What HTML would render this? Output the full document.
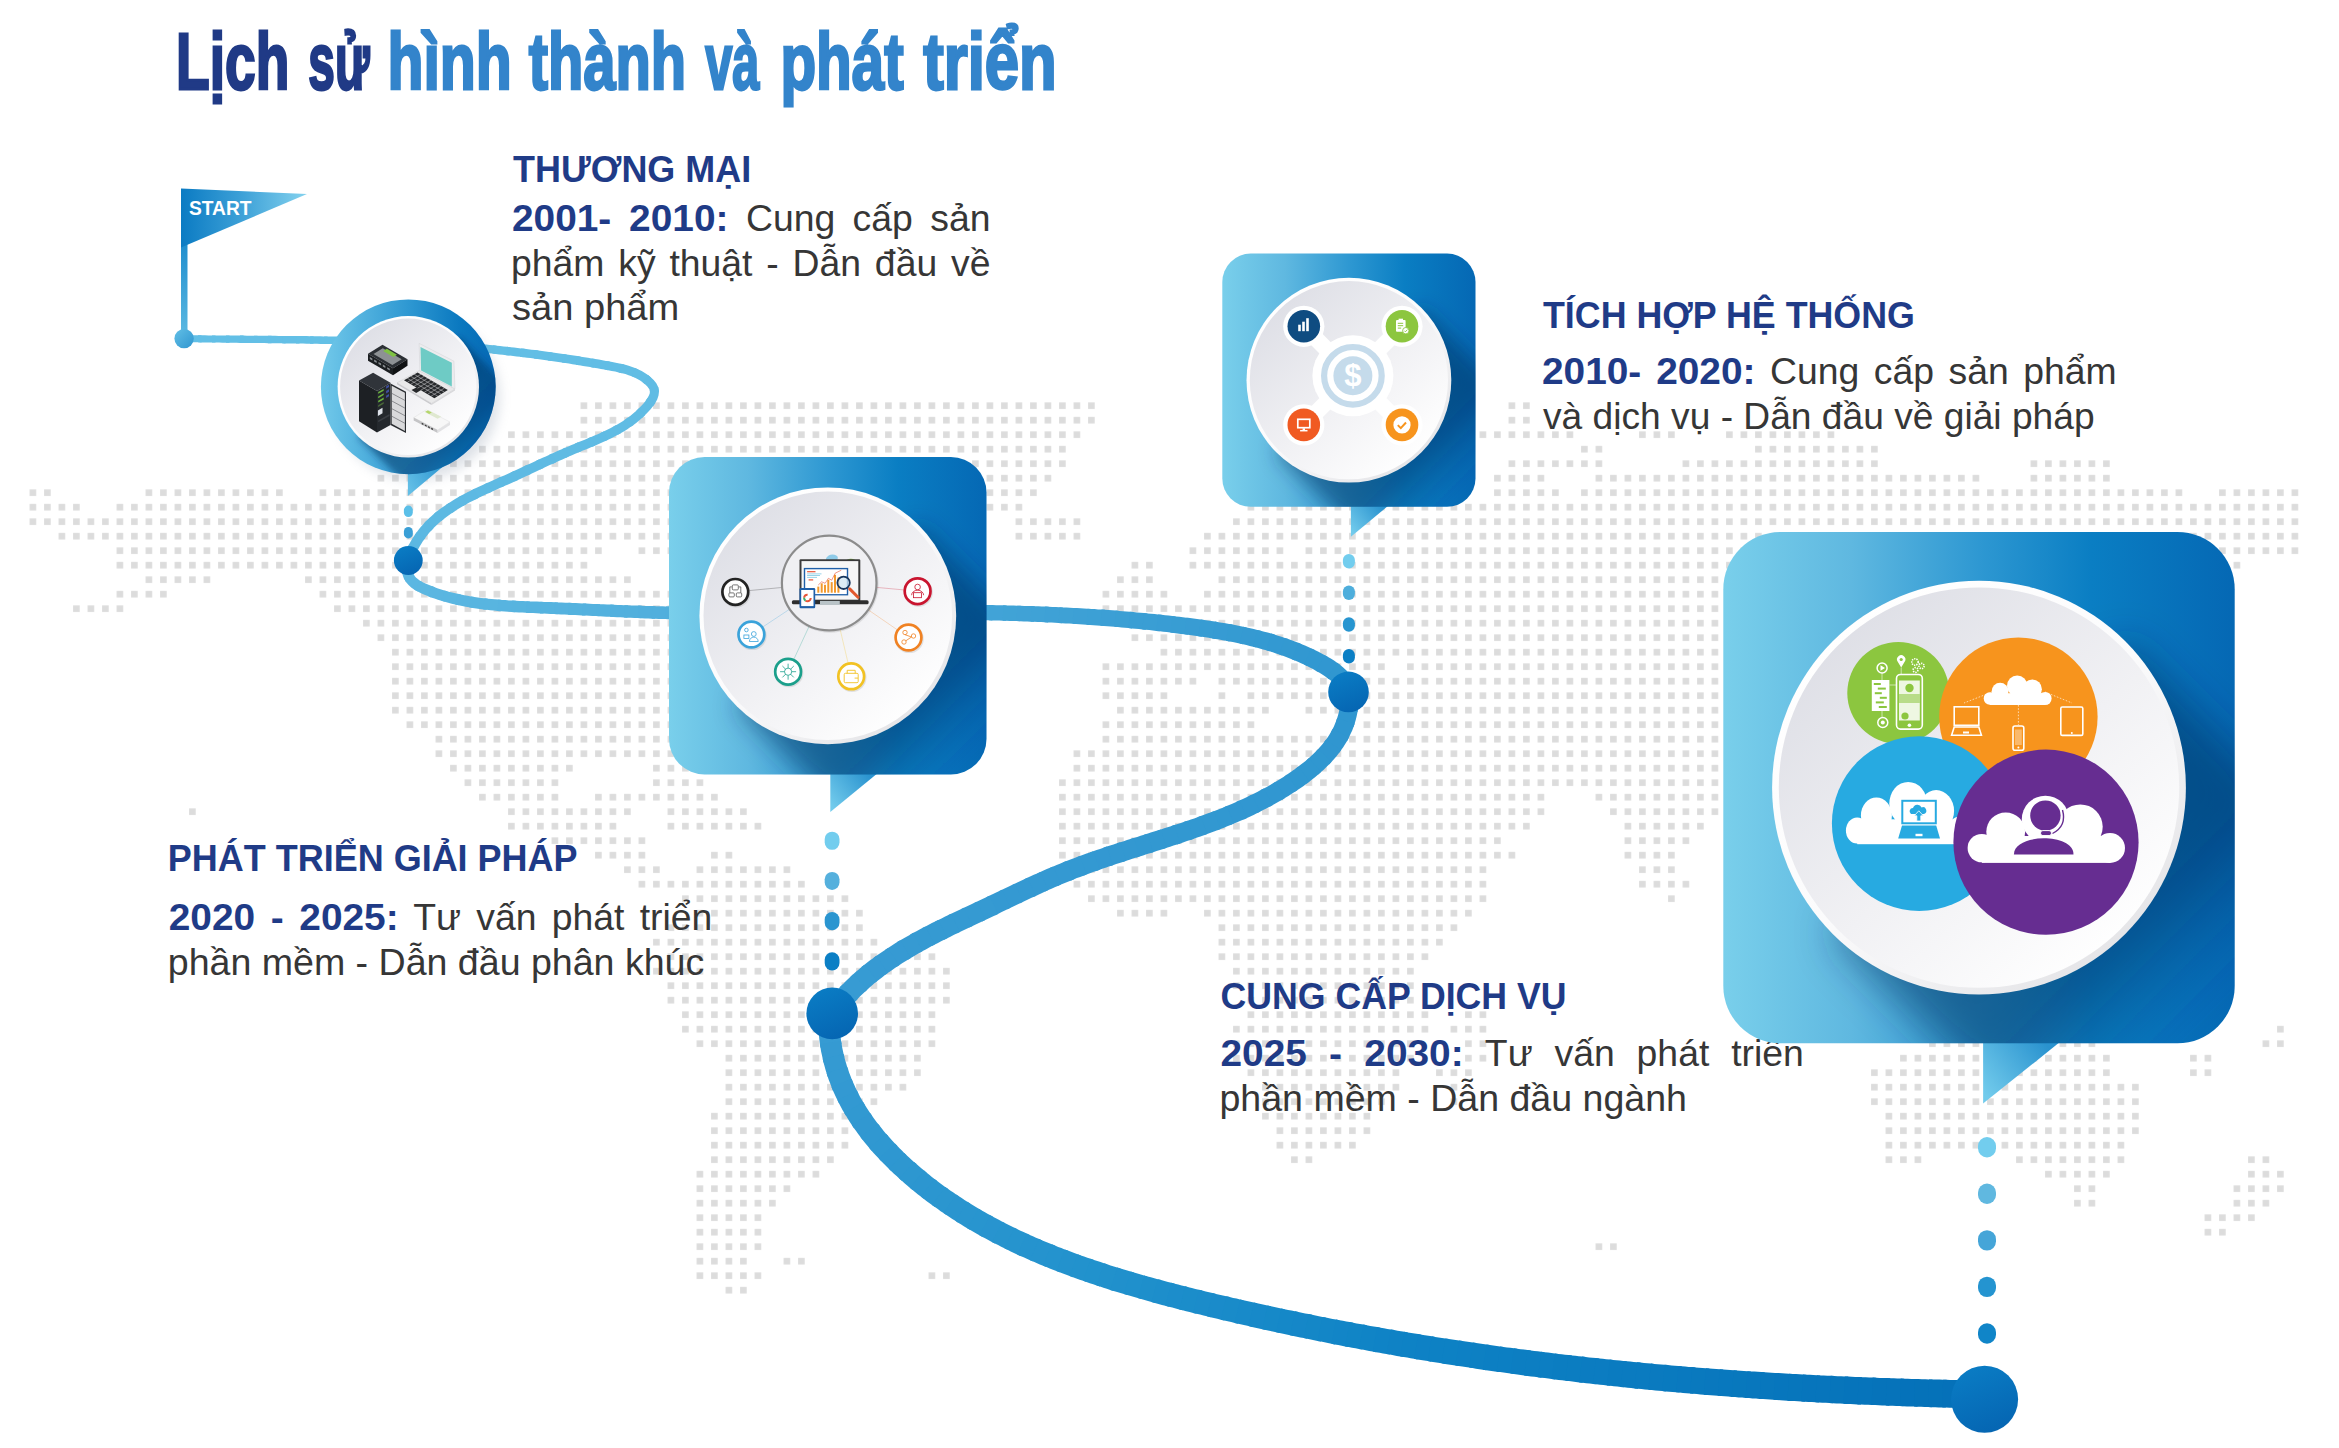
<!DOCTYPE html>
<html lang="vi"><head><meta charset="utf-8"><title>Lịch sử hình thành và phát triển</title>
<style>html,body{margin:0;padding:0;background:#fff}svg{display:block}text{white-space:pre}</style></head>
<body><svg width="2339" height="1448" viewBox="0 0 2339 1448">
<defs>
<linearGradient id="gbox" x1="0" y1="0" x2="1" y2="0"><stop offset="0" stop-color="#79cfeb"/><stop offset="0.25" stop-color="#5fb8e0"/><stop offset="0.5" stop-color="#2e98d2"/><stop offset="0.72" stop-color="#0a7ec3"/><stop offset="1" stop-color="#0568b4"/></linearGradient>
<linearGradient id="gdisc" x1="0.15" y1="0.1" x2="0.85" y2="0.9"><stop offset="0" stop-color="#dedfe6"/><stop offset="0.55" stop-color="#f1f1f4"/><stop offset="1" stop-color="#ffffff"/></linearGradient>
<linearGradient id="grim" x1="0.15" y1="0.1" x2="0.85" y2="0.9"><stop offset="0" stop-color="#ffffff"/><stop offset="0.5" stop-color="#fbfbfc"/><stop offset="1" stop-color="#e4e4e7"/></linearGradient>
<linearGradient id="gflag" x1="0" y1="0" x2="1" y2="0"><stop offset="0" stop-color="#0b7bc3"/><stop offset="0.5" stop-color="#3fa2d8"/><stop offset="1" stop-color="#84d2ee"/></linearGradient>
<linearGradient id="gpole" x1="0" y1="0" x2="0" y2="1"><stop offset="0" stop-color="#1788cb"/><stop offset="1" stop-color="#5cb9e2"/></linearGradient>
<linearGradient id="gring" x1="0" y1="0" x2="1" y2="0"><stop offset="0" stop-color="#72c9ea"/><stop offset="0.5" stop-color="#2e98d2"/><stop offset="0.8" stop-color="#0a78bf"/><stop offset="1" stop-color="#0568b4"/></linearGradient>
<linearGradient id="gdot" x1="0.3" y1="0" x2="0.7" y2="1"><stop offset="0" stop-color="#0a7cc4"/><stop offset="1" stop-color="#0565b2"/></linearGradient>
<linearGradient id="gball" x1="0" y1="0" x2="1" y2="1"><stop offset="0" stop-color="#62bfe6"/><stop offset="1" stop-color="#2f96d0"/></linearGradient>
<filter id="blurc1" x="-50%" y="-50%" width="200%" height="200%"><feGaussianBlur stdDeviation="3.5"/></filter>
<filter id="blurc1b" x="-50%" y="-50%" width="200%" height="200%"><feGaussianBlur stdDeviation="6"/></filter>
<clipPath id="clipc1"><circle cx="408.3" cy="386.8" r="87.4"/></clipPath>
<linearGradient id="gptrc1" gradientUnits="userSpaceOnUse" x1="408" y1="485" x2="445" y2="465"><stop offset="0" stop-color="#62bee6"/><stop offset="1" stop-color="#2a93cf"/></linearGradient>
<linearGradient id="gshc1" gradientUnits="userSpaceOnUse" x1="408.3" y1="386.8" x2="488.3" y2="466.8"><stop offset="0" stop-color="#0a2f60" stop-opacity="0.6"/><stop offset="0.6" stop-color="#0a2f60" stop-opacity="0.45"/><stop offset="1" stop-color="#0a3a78" stop-opacity="0"/></linearGradient>
<filter id="blur2" x="-50%" y="-50%" width="200%" height="200%"><feGaussianBlur stdDeviation="12.8"/></filter><linearGradient id="gsh2" gradientUnits="userSpaceOnUse" x1="827.8" y1="615.8" x2="963.9" y2="751.9"><stop offset="0" stop-color="#0a2f60" stop-opacity="0.55"/><stop offset="0.66" stop-color="#0a2f60" stop-opacity="0.5"/><stop offset="0.8" stop-color="#0a3468" stop-opacity="0.26"/><stop offset="1" stop-color="#0a3a78" stop-opacity="0"/></linearGradient><linearGradient id="gptr2" gradientUnits="userSpaceOnUse" x1="830.3" y1="804.5" x2="868.9" y2="774.5"><stop offset="0" stop-color="#72cbec"/><stop offset="1" stop-color="#2a93cf"/></linearGradient>
<filter id="blur3" x="-50%" y="-50%" width="200%" height="200%"><feGaussianBlur stdDeviation="10.2"/></filter><linearGradient id="gsh3" gradientUnits="userSpaceOnUse" x1="1348.9" y1="380.2" x2="1457.5" y2="488.8"><stop offset="0" stop-color="#0a2f60" stop-opacity="0.55"/><stop offset="0.66" stop-color="#0a2f60" stop-opacity="0.5"/><stop offset="0.8" stop-color="#0a3468" stop-opacity="0.26"/><stop offset="1" stop-color="#0a3a78" stop-opacity="0"/></linearGradient><linearGradient id="gptr3" gradientUnits="userSpaceOnUse" x1="1350.9" y1="530.7" x2="1381.7" y2="506.8"><stop offset="0" stop-color="#72cbec"/><stop offset="1" stop-color="#2a93cf"/></linearGradient>
<filter id="blur4" x="-50%" y="-50%" width="200%" height="200%"><feGaussianBlur stdDeviation="20.7"/></filter><linearGradient id="gsh4" gradientUnits="userSpaceOnUse" x1="1979.0" y1="787.6" x2="2198.3" y2="1006.9"><stop offset="0" stop-color="#0a2f60" stop-opacity="0.55"/><stop offset="0.66" stop-color="#0a2f60" stop-opacity="0.5"/><stop offset="0.8" stop-color="#0a3468" stop-opacity="0.26"/><stop offset="1" stop-color="#0a3a78" stop-opacity="0"/></linearGradient><linearGradient id="gptr4" gradientUnits="userSpaceOnUse" x1="1983.1" y1="1091.6" x2="2045.3" y2="1043.3"><stop offset="0" stop-color="#72cbec"/><stop offset="1" stop-color="#2a93cf"/></linearGradient>
</defs>
<rect width="2339" height="1448" fill="#fff"/>
<pattern id="pdot" patternUnits="userSpaceOnUse" x="25.65" y="470.95" width="14.5" height="14.5"><rect x="3.95" y="3.95" width="6.6" height="6.6" fill="#dcdcdc"/></pattern>
<path fill="url(#pdot)" d="M576.65 398.45h522v14.5h-522zM1504.65 398.45h29v14.5h-29zM576.65 412.95h522v14.5h-522zM1504.65 412.95h29v14.5h-29zM504.15 427.45h580v14.5h-580zM1475.65 427.45h101.5v14.5h-101.5zM1635.15 427.45h43.5v14.5h-43.5zM1722.15 427.45h116v14.5h-116zM475.15 441.95h594.5v14.5h-594.5zM1577.15 441.95h29v14.5h-29zM1751.15 441.95h130.5v14.5h-130.5zM446.15 456.45h623.5v14.5h-623.5zM1504.65 456.45h101.5v14.5h-101.5zM1678.65 456.45h203v14.5h-203zM2026.65 456.45h87v14.5h-87zM373.65 470.95h681.5v14.5h-681.5zM1490.15 470.95h58v14.5h-58zM1591.65 470.95h391.5v14.5h-391.5zM2026.65 470.95h87v14.5h-87zM25.65 485.45h29v14.5h-29zM141.65 485.45h145v14.5h-145zM315.65 485.45h725v14.5h-725zM1490.15 485.45h72.5v14.5h-72.5zM1577.15 485.45h609v14.5h-609zM2215.15 485.45h87v14.5h-87zM25.65 499.95h58v14.5h-58zM112.65 499.95h913.5v14.5h-913.5zM1243.65 499.95h1058.5v14.5h-1058.5zM25.65 514.45h957v14.5h-957zM1011.65 514.45h72.5v14.5h-72.5zM1229.15 514.45h1073v14.5h-1073zM54.65 528.95h928v14.5h-928zM1011.65 528.95h72.5v14.5h-72.5zM1200.15 528.95h1102v14.5h-1102zM112.65 543.45h493v14.5h-493zM634.65 543.45h348v14.5h-348zM1185.65 543.45h101.5v14.5h-101.5zM1301.65 543.45h899v14.5h-899zM2215.15 543.45h87v14.5h-87zM112.65 557.95h478.5v14.5h-478.5zM1127.65 557.95h29v14.5h-29zM1185.65 557.95h1015v14.5h-1015zM2229.65 557.95h14.5v14.5h-14.5zM141.65 572.45h72.5v14.5h-72.5zM301.15 572.45h333.5v14.5h-333.5zM1113.15 572.45h43.5v14.5h-43.5zM1214.65 572.45h551v14.5h-551zM112.65 586.95h58v14.5h-58zM315.65 586.95h667v14.5h-667zM1098.65 586.95h72.5v14.5h-72.5zM1200.15 586.95h565.5v14.5h-565.5zM69.15 601.45h58v14.5h-58zM330.15 601.45h652.5v14.5h-652.5zM1098.65 601.45h667v14.5h-667zM359.15 615.95h623.5v14.5h-623.5zM1127.65 615.95h638v14.5h-638zM373.65 630.45h609v14.5h-609zM1127.65 630.45h638v14.5h-638zM388.15 644.95h594.5v14.5h-594.5zM1156.65 644.95h609v14.5h-609zM388.15 659.45h594.5v14.5h-594.5zM1098.65 659.45h290v14.5h-290zM1403.15 659.45h362.5v14.5h-362.5zM388.15 673.95h594.5v14.5h-594.5zM1098.65 673.95h101.5v14.5h-101.5zM1214.65 673.95h551v14.5h-551zM388.15 688.45h594.5v14.5h-594.5zM1098.65 688.45h72.5v14.5h-72.5zM1214.65 688.45h14.5v14.5h-14.5zM1243.65 688.45h522v14.5h-522zM388.15 702.95h594.5v14.5h-594.5zM1113.15 702.95h159.5v14.5h-159.5zM1301.65 702.95h420.5v14.5h-420.5zM402.65 717.45h580v14.5h-580zM1098.65 717.45h159.5v14.5h-159.5zM1359.65 717.45h362.5v14.5h-362.5zM431.65 731.95h551v14.5h-551zM1098.65 731.95h623.5v14.5h-623.5zM431.65 746.45h551v14.5h-551zM1069.65 746.45h652.5v14.5h-652.5zM446.15 760.95h130.5v14.5h-130.5zM649.15 760.95h43.5v14.5h-43.5zM1069.65 760.95h652.5v14.5h-652.5zM460.65 775.45h101.5v14.5h-101.5zM649.15 775.45h58v14.5h-58zM1055.15 775.45h667v14.5h-667zM475.15 789.95h87v14.5h-87zM591.15 789.95h130.5v14.5h-130.5zM1055.15 789.95h493v14.5h-493zM1591.65 789.95h130.5v14.5h-130.5zM185.15 804.45h14.5v14.5h-14.5zM504.15 804.45h130.5v14.5h-130.5zM663.65 804.45h87v14.5h-87zM1055.15 804.45h493v14.5h-493zM1606.15 804.45h116v14.5h-116zM504.15 818.95h116v14.5h-116zM663.65 818.95h101.5v14.5h-101.5zM1055.15 818.95h478.5v14.5h-478.5zM1620.65 818.95h87v14.5h-87zM547.65 833.45h101.5v14.5h-101.5zM1055.15 833.45h449.5v14.5h-449.5zM1620.65 833.45h72.5v14.5h-72.5zM591.15 847.95h58v14.5h-58zM707.15 847.95h29v14.5h-29zM1055.15 847.95h464v14.5h-464zM1620.65 847.95h58v14.5h-58zM620.15 862.45h43.5v14.5h-43.5zM692.65 862.45h101.5v14.5h-101.5zM1069.65 862.45h420.5v14.5h-420.5zM1635.15 862.45h43.5v14.5h-43.5zM634.65 876.95h174v14.5h-174zM1069.65 876.95h420.5v14.5h-420.5zM1635.15 876.95h58v14.5h-58zM678.15 891.45h174v14.5h-174zM1084.15 891.45h406v14.5h-406zM1664.15 891.45h14.5v14.5h-14.5zM692.65 905.95h174v14.5h-174zM1113.15 905.95h58v14.5h-58zM1200.15 905.95h275.5v14.5h-275.5zM663.65 920.45h203v14.5h-203zM1214.65 920.45h246.5v14.5h-246.5zM649.15 934.95h232v14.5h-232zM1214.65 934.95h232v14.5h-232zM663.65 949.45h275.5v14.5h-275.5zM1214.65 949.45h217.5v14.5h-217.5zM649.15 963.95h304.5v14.5h-304.5zM1229.15 963.95h188.5v14.5h-188.5zM663.65 978.45h290v14.5h-290zM1229.15 978.45h188.5v14.5h-188.5zM663.65 992.95h290v14.5h-290zM1243.65 992.95h174v14.5h-174zM678.15 1007.45h261v14.5h-261zM1243.65 1007.45h188.5v14.5h-188.5zM1461.15 1007.45h29v14.5h-29zM678.15 1021.95h261v14.5h-261zM1229.15 1021.95h203v14.5h-203zM1446.65 1021.95h43.5v14.5h-43.5zM2273.15 1021.95h14.5v14.5h-14.5zM692.65 1036.45h246.5v14.5h-246.5zM1229.15 1036.45h188.5v14.5h-188.5zM1461.15 1036.45h29v14.5h-29zM1925.15 1036.45h58v14.5h-58zM2055.65 1036.45h43.5v14.5h-43.5zM2258.65 1036.45h29v14.5h-29zM721.65 1050.95h203v14.5h-203zM1229.15 1050.95h188.5v14.5h-188.5zM1461.15 1050.95h29v14.5h-29zM1896.15 1050.95h217.5v14.5h-217.5zM2186.15 1050.95h29v14.5h-29zM721.65 1065.45h203v14.5h-203zM1243.65 1065.45h159.5v14.5h-159.5zM1432.15 1065.45h43.5v14.5h-43.5zM1867.15 1065.45h246.5v14.5h-246.5zM2186.15 1065.45h29v14.5h-29zM721.65 1079.95h188.5v14.5h-188.5zM1258.15 1079.95h145v14.5h-145zM1446.65 1079.95h14.5v14.5h-14.5zM1867.15 1079.95h275.5v14.5h-275.5zM721.65 1094.45h159.5v14.5h-159.5zM1258.15 1094.45h130.5v14.5h-130.5zM1446.65 1094.45h14.5v14.5h-14.5zM1867.15 1094.45h275.5v14.5h-275.5zM707.15 1108.95h145v14.5h-145zM1258.15 1108.95h116v14.5h-116zM1881.65 1108.95h261v14.5h-261zM707.15 1123.45h145v14.5h-145zM1272.65 1123.45h101.5v14.5h-101.5zM1881.65 1123.45h261v14.5h-261zM707.15 1137.95h145v14.5h-145zM1272.65 1137.95h87v14.5h-87zM1881.65 1137.95h246.5v14.5h-246.5zM707.15 1152.45h130.5v14.5h-130.5zM1287.15 1152.45h29v14.5h-29zM1881.65 1152.45h43.5v14.5h-43.5zM2012.15 1152.45h116v14.5h-116zM2244.15 1152.45h29v14.5h-29zM692.65 1166.95h130.5v14.5h-130.5zM2041.15 1166.95h72.5v14.5h-72.5zM2244.15 1166.95h43.5v14.5h-43.5zM692.65 1181.45h101.5v14.5h-101.5zM2070.15 1181.45h29v14.5h-29zM2229.65 1181.45h58v14.5h-58zM692.65 1195.95h87v14.5h-87zM2070.15 1195.95h29v14.5h-29zM2229.65 1195.95h43.5v14.5h-43.5zM692.65 1210.45h72.5v14.5h-72.5zM2200.65 1210.45h58v14.5h-58zM692.65 1224.95h72.5v14.5h-72.5zM2200.65 1224.95h29v14.5h-29zM692.65 1239.45h72.5v14.5h-72.5zM1591.65 1239.45h29v14.5h-29zM692.65 1253.95h58v14.5h-58zM779.65 1253.95h29v14.5h-29zM692.65 1268.45h72.5v14.5h-72.5zM924.65 1268.45h29v14.5h-29zM721.65 1282.95h29v14.5h-29z"/>
<g font-family='"Liberation Sans", sans-serif'><text xml:space="preserve" transform="translate(176.11 88.50) scale(0.6974 1)" font-size="79" font-weight="bold" fill="#203a86" style="word-spacing:0.00px" stroke="#203a86" stroke-width="2.8" stroke-linejoin="miter" stroke-miterlimit="3">Lịch</text>
<text xml:space="preserve" transform="translate(308.29 88.50) scale(0.6054 1)" font-size="79" font-weight="bold" fill="#203a86" style="word-spacing:0.00px" stroke="#203a86" stroke-width="2.8" stroke-linejoin="miter" stroke-miterlimit="3">sử</text>
<text xml:space="preserve" transform="translate(387.47 88.50) scale(0.7456 1)" font-size="79" font-weight="bold" fill="#3384cb" style="word-spacing:0.00px" stroke="#3384cb" stroke-width="2.8" stroke-linejoin="miter" stroke-miterlimit="3">hình</text>
<text xml:space="preserve" transform="translate(528.80 88.50) scale(0.7321 1)" font-size="79" font-weight="bold" fill="#3384cb" style="word-spacing:0.00px" stroke="#3384cb" stroke-width="2.8" stroke-linejoin="miter" stroke-miterlimit="3">thành</text>
<text xml:space="preserve" transform="translate(705.20 88.50) scale(0.6173 1)" font-size="79" font-weight="bold" fill="#3384cb" style="word-spacing:0.00px" stroke="#3384cb" stroke-width="2.8" stroke-linejoin="miter" stroke-miterlimit="3">và</text>
<text xml:space="preserve" transform="translate(780.41 88.50) scale(0.7389 1)" font-size="79" font-weight="bold" fill="#3384cb" style="word-spacing:0.00px" stroke="#3384cb" stroke-width="2.8" stroke-linejoin="miter" stroke-miterlimit="3">phát</text>
<text xml:space="preserve" transform="translate(923.20 88.50) scale(0.7799 1)" font-size="79" font-weight="bold" fill="#3384cb" style="word-spacing:0.00px" stroke="#3384cb" stroke-width="2.8" stroke-linejoin="miter" stroke-miterlimit="3">triển</text>
<text xml:space="preserve" transform="translate(513.00 182.00) scale(0.9716 1)" font-size="37" font-weight="bold" fill="#1f3b87" style="word-spacing:0.00px">THƯƠNG MẠI</text>
<text xml:space="preserve" transform="translate(511.95 231.00) scale(1.0500 1)" font-size="37" font-weight="bold" fill="#1f3b87" style="word-spacing:6.70px">2001- 2010:</text>
<text xml:space="preserve" transform="translate(728.50 231.00) scale(1.0100 1)" font-size="37" font-weight="normal" fill="#363636" style="word-spacing:6.96px"> Cung cấp sản</text>
<text xml:space="preserve" transform="translate(510.98 275.50) scale(1.0100 1)" font-size="37" font-weight="normal" fill="#363636" style="word-spacing:3.39px">phẩm kỹ thuật - Dẫn đầu về</text>
<text xml:space="preserve" transform="translate(511.97 320.00) scale(1.0303 1)" font-size="37" font-weight="normal" fill="#363636" style="word-spacing:0.00px">sản phẩm</text>
<text xml:space="preserve" transform="translate(1543.00 327.50) scale(0.9678 1)" font-size="37" font-weight="bold" fill="#1f3b87" style="word-spacing:0.00px">TÍCH HỢP HỆ THỐNG</text>
<text xml:space="preserve" transform="translate(1541.95 384.00) scale(1.0500 1)" font-size="37" font-weight="bold" fill="#1f3b87" style="word-spacing:3.91px">2010- 2020:</text>
<text xml:space="preserve" transform="translate(1755.57 384.00) scale(1.0100 1)" font-size="37" font-weight="normal" fill="#363636" style="word-spacing:4.06px"> Cung cấp sản phẩm</text>
<text xml:space="preserve" transform="translate(1543.00 429.00) scale(1.0044 1)" font-size="37" font-weight="normal" fill="#363636" style="word-spacing:0.00px">và dịch vụ - Dẫn đầu về giải pháp</text>
<text xml:space="preserve" transform="translate(167.86 871.00) scale(0.9724 1)" font-size="37" font-weight="bold" fill="#1f3b87" style="word-spacing:0.00px">PHÁT TRIỂN GIẢI PHÁP</text>
<text xml:space="preserve" transform="translate(168.75 930.00) scale(1.0500 1)" font-size="37" font-weight="bold" fill="#1f3b87" style="word-spacing:4.60px">2020 - 2025:</text>
<text xml:space="preserve" transform="translate(398.72 930.00) scale(1.0100 1)" font-size="37" font-weight="normal" fill="#363636" style="word-spacing:4.78px"> Tư vấn phát triển</text>
<text xml:space="preserve" transform="translate(167.77 975.00) scale(1.0154 1)" font-size="37" font-weight="normal" fill="#363636" style="word-spacing:0.00px">phần mềm - Dẫn đầu phân khúc</text>
<text xml:space="preserve" transform="translate(1220.54 1008.50) scale(0.9635 1)" font-size="37" font-weight="bold" fill="#1f3b87" style="word-spacing:0.00px">CUNG CẤP DỊCH VỤ</text>
<text xml:space="preserve" transform="translate(1220.45 1066.00) scale(1.0500 1)" font-size="37" font-weight="bold" fill="#1f3b87" style="word-spacing:10.92px">2025 - 2030:</text>
<text xml:space="preserve" transform="translate(1463.69 1066.00) scale(1.0100 1)" font-size="37" font-weight="normal" fill="#363636" style="word-spacing:11.35px"> Tư vấn phát triển</text>
<text xml:space="preserve" transform="translate(1219.47 1110.50) scale(1.0149 1)" font-size="37" font-weight="normal" fill="#363636" style="word-spacing:0.00px">phần mềm - Dẫn đầu ngành</text></g>
<rect x="181" y="230" width="6.5" height="106" fill="url(#gpole)"/>
<polygon points="181,188.5 307,194 181,247.5" fill="url(#gflag)"/>
<text x="189" y="214.8" font-family='"Liberation Sans", sans-serif' font-weight="bold" font-size="21" fill="#fff" textLength="62.5" lengthAdjust="spacingAndGlyphs">START</text>
<g><path d="M183.9 342.1L187.4 342.2L190.9 342.2L194.5 342.3L198.0 342.3L201.5 342.4L201.5 335.3L198.0 335.3L194.5 335.2L191.1 335.2L187.6 335.1L184.1 335.1Z" fill="#62bfe6"/>
<path d="M198.0 342.3L201.5 342.4L205.0 342.4L208.5 342.5L212.0 342.5L215.5 342.6L215.5 335.4L212.0 335.4L208.5 335.4L205.0 335.3L201.5 335.3L198.0 335.3Z" fill="#62bfe6"/>
<path d="M212.0 342.5L215.5 342.6L219.0 342.6L222.5 342.7L226.0 342.7L229.5 342.7L229.5 335.5L226.0 335.5L222.5 335.5L219.0 335.5L215.5 335.4L212.0 335.4Z" fill="#62bfe6"/>
<path d="M226.0 342.7L229.5 342.7L233.0 342.8L236.5 342.8L240.0 342.9L243.5 342.9L243.5 335.6L240.0 335.6L236.5 335.6L233.0 335.6L229.5 335.5L226.0 335.5Z" fill="#62bfe6"/>
<path d="M240.0 342.9L243.5 342.9L247.0 342.9L250.5 343.0L254.0 343.0L257.5 343.0L257.5 335.7L254.0 335.7L250.5 335.7L247.0 335.7L243.5 335.6L240.0 335.6Z" fill="#63bfe6"/>
<path d="M254.0 343.0L257.5 343.0L261.0 343.1L264.5 343.1L268.0 343.2L271.5 343.2L271.6 335.8L268.0 335.8L264.5 335.8L261.0 335.7L257.5 335.7L254.0 335.7Z" fill="#63bfe6"/>
<path d="M268.0 343.2L271.5 343.2L275.0 343.2L278.5 343.3L282.0 343.3L285.5 343.4L285.6 335.9L282.1 335.9L278.6 335.9L275.1 335.8L271.6 335.8L268.0 335.8Z" fill="#63bfe6"/>
<path d="M282.0 343.3L285.5 343.4L289.0 343.4L292.5 343.5L296.0 343.5L299.5 343.6L299.6 336.0L296.1 336.0L292.6 336.0L289.1 335.9L285.6 335.9L282.1 335.9Z" fill="#63bfe6"/>
<path d="M296.0 343.5L299.5 343.6L303.0 343.6L306.5 343.7L310.0 343.7L313.5 343.8L313.6 336.2L310.1 336.2L306.6 336.1L303.1 336.1L299.6 336.0L296.1 336.0Z" fill="#63c0e6"/>
<path d="M310.0 343.7L313.5 343.8L317.0 343.8L320.5 343.9L324.0 344.0L327.5 344.0L327.6 336.4L324.1 336.4L320.6 336.3L317.1 336.2L313.6 336.2L310.1 336.2Z" fill="#63c0e6"/>
<path d="M324.0 344.0L327.5 344.0L331.0 344.1L334.4 344.2L337.9 344.3L341.4 344.4L341.6 336.7L338.1 336.6L334.6 336.5L331.1 336.5L327.6 336.4L324.1 336.4Z" fill="#63c0e6"/>
<path d="M337.9 344.3L341.4 344.4L344.9 344.5L348.4 344.6L351.9 344.7L355.4 344.8L355.6 337.0L352.1 336.9L348.6 336.8L345.1 336.7L341.6 336.7L338.1 336.6Z" fill="#63c0e6"/>
<path d="M351.9 344.7L355.4 344.8L358.9 344.9L362.4 345.0L365.9 345.1L369.4 345.2L369.7 337.4L366.2 337.3L362.6 337.2L359.1 337.1L355.6 337.0L352.1 336.9Z" fill="#64c0e6"/>
<path d="M365.9 345.1L369.4 345.2L372.9 345.4L376.4 345.5L379.9 345.6L383.4 345.8L383.7 337.9L380.2 337.8L376.7 337.6L373.2 337.5L369.7 337.4L366.2 337.3Z" fill="#64c0e6"/>
<path d="M379.9 345.6L383.4 345.8L386.8 345.9L390.3 346.1L393.8 346.3L397.3 346.4L397.7 338.5L394.2 338.3L390.7 338.2L387.2 338.0L383.7 337.9L380.2 337.8Z" fill="#64c0e6"/>
<path d="M393.8 346.3L397.3 346.4L400.8 346.6L404.3 346.8L407.8 347.0L408.2 339.0L404.7 338.8L401.2 338.7L397.7 338.5L394.2 338.3Z" fill="#64c0e6"/>
<path d="M407.6 347.1L411.3 347.3L414.9 347.5L418.5 347.7L422.0 347.9L425.6 348.1L426.1 340.1L422.5 339.9L418.9 339.7L415.3 339.5L411.7 339.3L408.0 339.1Z" fill="#64c0e6"/>
<path d="M422.0 347.9L425.6 348.1L429.2 348.4L432.8 348.6L436.3 348.8L439.8 349.1L440.4 341.0L436.8 340.7L433.3 340.5L429.7 340.3L426.1 340.1L422.5 339.9Z" fill="#64c0e6"/>
<path d="M436.3 348.8L439.8 349.1L443.4 349.3L446.9 349.6L450.4 349.8L454.0 350.1L454.6 342.0L451.0 341.7L447.5 341.4L444.0 341.2L440.4 341.0L436.8 340.7Z" fill="#64c0e6"/>
<path d="M450.4 349.8L454.0 350.1L457.5 350.4L461.0 350.7L464.5 351.0L468.0 351.3L468.7 343.1L465.2 342.8L461.6 342.5L458.1 342.2L454.6 342.0L451.0 341.7Z" fill="#63bfe6"/>
<path d="M464.5 351.0L468.0 351.3L471.4 351.6L474.9 351.9L478.4 352.3L481.9 352.6L482.7 344.3L479.2 344.0L475.7 343.7L472.2 343.4L468.7 343.1L465.2 342.8Z" fill="#63bfe6"/>
<path d="M478.4 352.3L481.9 352.6L485.4 352.9L488.8 353.3L492.3 353.6L495.8 354.0L496.7 345.7L493.2 345.3L489.7 345.0L486.2 344.6L482.7 344.3L479.2 344.0Z" fill="#63bfe5"/>
<path d="M492.3 353.6L495.8 354.0L499.3 354.4L502.7 354.8L506.2 355.2L509.6 355.6L510.6 347.2L507.1 346.8L503.6 346.4L500.1 346.0L496.7 345.7L493.2 345.3Z" fill="#63bfe5"/>
<path d="M506.2 355.2L509.6 355.6L513.1 356.0L516.6 356.4L520.0 356.8L523.5 357.2L524.6 348.8L521.1 348.4L517.6 348.0L514.1 347.6L510.6 347.2L507.1 346.8Z" fill="#62bee5"/>
<path d="M520.0 356.8L523.5 357.2L527.0 357.7L530.5 358.1L533.9 358.6L537.4 359.1L538.5 350.6L535.0 350.1L531.5 349.7L528.1 349.2L524.6 348.8L521.1 348.4Z" fill="#62bee5"/>
<path d="M533.9 358.6L537.4 359.1L540.9 359.5L544.4 360.0L547.9 360.5L551.4 361.0L552.6 352.5L549.1 352.0L545.5 351.5L542.0 351.0L538.5 350.6L535.0 350.1Z" fill="#62bee5"/>
<path d="M547.9 360.5L551.4 361.0L554.9 361.5L558.4 362.0L561.9 362.6L565.4 363.1L566.7 354.5L563.1 354.0L559.6 353.5L556.1 353.0L552.6 352.5L549.1 352.0Z" fill="#62bee5"/>
<path d="M561.9 362.6L565.4 363.1L568.9 363.6L572.4 364.2L576.0 364.8L579.5 365.3L580.9 356.7L577.3 356.1L573.8 355.6L570.2 355.1L566.7 354.5L563.1 354.0Z" fill="#62bee5"/>
<path d="M576.0 364.8L579.5 365.3L583.0 365.9L586.6 366.5L590.2 367.1L593.7 367.7L595.2 359.0L591.6 358.4L588.0 357.8L584.4 357.3L580.9 356.7L577.3 356.1Z" fill="#62bee5"/>
<path d="M590.2 367.1L593.7 367.7L597.3 368.3L600.9 368.9L604.5 369.6L608.1 370.2L609.7 361.5L606.0 360.9L602.4 360.2L598.8 359.6L595.2 359.0L591.6 358.4Z" fill="#61bde5"/>
<path d="M604.5 369.6L608.1 370.2L611.7 370.9L615.2 371.6L618.7 372.4L622.1 373.2L624.3 364.6L620.7 363.7L617.0 362.9L613.4 362.2L609.7 361.5L606.0 360.9Z" fill="#61bde5"/>
<path d="M618.7 372.4L622.1 373.2L625.4 374.1L628.6 375.2L631.7 376.3L634.6 377.6L638.4 369.4L635.0 368.0L631.5 366.7L627.9 365.6L624.3 364.6L620.7 363.7Z" fill="#61bde4"/>
<path d="M631.7 376.3L634.6 377.6L637.4 379.0L640.1 380.6L642.6 382.3L645.0 384.2L651.0 377.5L648.0 375.1L644.9 373.0L641.7 371.1L638.4 369.4L635.0 368.0Z" fill="#61bde4"/>
<path d="M642.6 382.3L645.0 384.2L647.1 386.3L648.8 388.4L649.7 390.1L649.9 391.6L659.0 391.4L658.2 387.1L656.3 383.3L653.7 380.1L651.0 377.5L648.0 375.1Z" fill="#60bce4"/>
<path d="M649.7 390.1L649.9 391.6L649.7 393.4L648.9 395.6L647.5 398.1L645.7 400.7L653.0 406.3L655.3 402.9L657.2 399.4L658.5 395.6L659.0 391.4L658.2 387.1Z" fill="#60bce4"/>
<path d="M647.5 398.1L645.7 400.7L643.5 403.4L641.1 406.0L638.6 408.5L636.1 410.9L642.3 417.8L645.1 415.1L647.8 412.3L650.4 409.4L653.0 406.3L655.3 402.9Z" fill="#60bce4"/>
<path d="M638.6 408.5L636.1 410.9L633.4 413.2L630.8 415.4L628.0 417.5L625.2 419.5L630.4 427.1L633.5 425.0L636.5 422.7L639.4 420.3L642.3 417.8L645.1 415.1Z" fill="#60bce4"/>
<path d="M628.0 417.5L625.2 419.5L622.3 421.4L619.4 423.2L616.4 424.9L613.4 426.6L617.9 434.8L621.1 433.0L624.2 431.2L627.4 429.2L630.4 427.1L633.5 425.0Z" fill="#60bce4"/>
<path d="M616.4 424.9L613.4 426.6L610.3 428.2L607.2 429.8L604.1 431.3L600.9 432.8L604.8 441.3L608.1 439.8L611.4 438.2L614.6 436.6L617.9 434.8L621.1 433.0Z" fill="#60bce4"/>
<path d="M604.1 431.3L600.9 432.8L597.7 434.2L594.5 435.6L591.2 437.0L588.0 438.3L591.6 447.1L594.9 445.7L598.2 444.3L601.5 442.8L604.8 441.3L608.1 439.8Z" fill="#5fbbe4"/>
<path d="M591.2 437.0L588.0 438.3L584.7 439.7L581.4 441.0L578.1 442.3L574.8 443.7L578.4 452.5L581.7 451.1L585.0 449.8L588.3 448.4L591.6 447.1L594.9 445.7Z" fill="#5fbbe4"/>
<path d="M578.1 442.3L574.8 443.7L571.5 445.0L568.3 446.4L565.0 447.8L561.8 449.2L565.6 458.0L568.8 456.6L572.0 455.2L575.2 453.8L578.4 452.5L581.7 451.1Z" fill="#5fbbe3"/>
<path d="M565.0 447.8L561.8 449.2L558.5 450.6L555.3 452.0L552.1 453.5L548.9 454.9L553.0 463.7L556.1 462.2L559.3 460.8L562.4 459.4L565.6 458.0L568.8 456.6Z" fill="#5fbbe3"/>
<path d="M552.1 453.5L548.9 454.9L545.8 456.4L542.6 457.8L539.4 459.3L536.2 460.7L540.3 469.5L543.5 468.1L546.6 466.6L549.8 465.1L553.0 463.7L556.1 462.2Z" fill="#5ebae3"/>
<path d="M539.4 459.3L536.2 460.7L533.1 462.2L529.9 463.7L526.7 465.1L523.5 466.6L527.6 475.5L530.8 474.0L534.0 472.5L537.2 471.0L540.3 469.5L543.5 468.1Z" fill="#5ebae3"/>
<path d="M526.7 465.1L523.5 466.6L520.4 468.1L517.2 469.5L513.9 471.0L510.7 472.5L514.7 481.4L518.0 479.9L521.2 478.4L524.4 477.0L527.6 475.5L530.8 474.0Z" fill="#5ebae3"/>
<path d="M513.9 471.0L510.7 472.5L507.5 473.9L504.2 475.4L500.9 476.8L497.6 478.2L501.6 487.3L504.9 485.8L508.2 484.4L511.5 482.9L514.7 481.4L518.0 479.9Z" fill="#5ebae3"/>
<path d="M500.9 476.8L497.6 478.2L494.3 479.7L491.0 481.2L487.7 482.7L484.3 484.2L488.5 493.2L491.8 491.7L495.0 490.2L498.3 488.7L501.6 487.3L504.9 485.8Z" fill="#5ebae3"/>
<path d="M487.7 482.7L484.3 484.2L481.0 485.7L477.7 487.2L474.4 488.8L471.1 490.4L475.6 499.4L478.8 497.8L482.0 496.2L485.2 494.7L488.5 493.2L491.8 491.7Z" fill="#5ebae3"/>
<path d="M474.4 488.8L471.1 490.4L467.9 492.1L464.6 493.8L461.4 495.5L458.2 497.3L463.2 506.0L466.3 504.3L469.3 502.6L472.5 501.0L475.6 499.4L478.8 497.8Z" fill="#5db9e3"/>
<path d="M461.4 495.5L458.2 497.3L455.1 499.1L452.0 501.0L448.9 502.9L445.9 504.9L451.6 513.3L454.4 511.4L457.3 509.5L460.2 507.7L463.2 506.0L466.3 504.3Z" fill="#5db9e3"/>
<path d="M448.9 502.9L445.9 504.9L442.9 506.9L440.0 509.1L437.1 511.3L434.3 513.5L440.9 521.3L443.5 519.2L446.1 517.2L448.8 515.2L451.6 513.3L454.4 511.4Z" fill="#5db9e2"/>
<path d="M437.1 511.3L434.3 513.5L431.6 515.9L429.0 518.3L426.4 520.8L423.9 523.5L431.4 530.4L433.6 528.0L436.0 525.7L438.4 523.5L440.9 521.3L443.5 519.2Z" fill="#5db9e2"/>
<path d="M426.4 520.8L423.9 523.5L421.4 526.2L419.1 529.0L416.9 531.9L414.7 534.9L423.3 540.6L425.2 538.0L427.1 535.4L429.2 532.8L431.4 530.4L433.6 528.0Z" fill="#5cb8e2"/>
<path d="M416.9 531.9L414.7 534.9L412.7 538.0L410.8 541.2L409.0 544.5L407.3 548.0L416.7 552.3L418.2 549.3L419.8 546.3L421.5 543.4L423.3 540.6L425.2 538.0Z" fill="#5cb8e2"/>
<path d="M409.0 544.5L407.3 548.0L405.7 551.5L404.3 555.2L403.0 559.0L412.9 562.1L414.0 558.8L415.3 555.5L416.7 552.3L418.2 549.3Z" fill="#5cb8e2"/>
<path d="M402.9 559.3L401.9 564.6L401.7 569.5L402.3 574.0L403.7 578.1L405.8 581.7L414.4 575.7L413.3 573.8L412.5 571.6L412.2 568.9L412.3 565.8L413.0 561.9Z" fill="#5cb8e2"/>
<path d="M403.7 578.1L405.8 581.7L408.3 584.8L411.2 587.5L414.4 589.7L417.7 591.6L422.6 582.2L420.0 580.7L417.8 579.1L415.9 577.5L414.4 575.7L413.3 573.8Z" fill="#5bb7e2"/>
<path d="M414.4 589.7L417.7 591.6L421.0 593.3L424.4 594.7L427.8 596.1L431.1 597.4L434.8 587.3L431.7 586.1L428.5 584.8L425.5 583.5L422.6 582.2L420.0 580.7Z" fill="#5bb7e1"/>
<path d="M427.8 596.1L431.1 597.4L434.5 598.6L437.9 599.8L441.3 600.8L444.8 601.8L447.7 591.4L444.5 590.4L441.2 589.4L438.0 588.4L434.8 587.3L431.7 586.1Z" fill="#5ab6e1"/>
<path d="M441.3 600.8L444.8 601.8L448.2 602.8L451.7 603.7L455.2 604.5L458.6 605.3L460.9 594.5L457.6 593.8L454.3 593.1L451.0 592.2L447.7 591.4L444.5 590.4Z" fill="#59b6e1"/>
<path d="M455.2 604.5L458.6 605.3L462.1 606.0L465.6 606.7L469.1 607.3L472.7 607.9L474.4 596.9L471.0 596.4L467.6 595.8L464.3 595.2L460.9 594.5L457.6 593.8Z" fill="#59b5e1"/>
<path d="M469.1 607.3L472.7 607.9L476.2 608.5L479.7 609.0L483.3 609.4L486.8 609.8L488.0 598.7L484.6 598.3L481.2 597.9L477.8 597.4L474.4 596.9L471.0 596.4Z" fill="#58b5e0"/>
<path d="M483.3 609.4L486.8 609.8L490.3 610.2L493.9 610.6L497.4 610.9L501.0 611.2L501.9 599.9L498.4 599.6L494.9 599.3L491.5 599.0L488.0 598.7L484.6 598.3Z" fill="#58b5e0"/>
<path d="M497.4 610.9L501.0 611.2L504.6 611.5L508.1 611.7L511.7 612.0L515.2 612.2L515.9 600.7L512.3 600.6L508.9 600.4L505.4 600.1L501.9 599.9L498.4 599.6Z" fill="#57b4e0"/>
<path d="M511.7 612.0L515.2 612.2L518.8 612.4L522.3 612.6L525.9 612.8L529.4 612.9L529.9 601.4L526.4 601.2L522.9 601.1L519.4 600.9L515.9 600.7L512.3 600.6Z" fill="#57b4df"/>
<path d="M525.9 612.8L529.4 612.9L533.0 613.1L536.5 613.3L540.0 613.4L543.6 613.6L544.0 601.9L540.5 601.8L537.0 601.6L533.4 601.5L529.9 601.4L526.4 601.2Z" fill="#56b3df"/>
<path d="M540.0 613.4L543.6 613.6L547.1 613.7L550.6 613.9L554.1 614.1L557.6 614.2L558.1 602.4L554.6 602.3L551.1 602.1L547.6 602.0L544.0 601.9L540.5 601.8Z" fill="#55b3df"/>
<path d="M554.1 614.1L557.6 614.2L561.1 614.4L564.6 614.6L568.1 614.7L571.6 614.9L572.2 603.0L568.7 602.8L565.2 602.7L561.6 602.6L558.1 602.4L554.6 602.3Z" fill="#55b2df"/>
<path d="M568.1 614.7L571.6 614.9L575.1 615.1L578.6 615.3L582.1 615.4L585.6 615.6L586.2 603.6L582.7 603.4L579.2 603.3L575.7 603.1L572.2 603.0L568.7 602.8Z" fill="#54b2de"/>
<path d="M582.1 615.4L585.6 615.6L589.1 615.8L592.6 616.0L596.1 616.1L599.5 616.3L600.1 604.2L596.6 604.0L593.1 603.9L589.6 603.7L586.2 603.6L582.7 603.4Z" fill="#54b1de"/>
<path d="M596.1 616.1L599.5 616.3L603.0 616.5L606.5 616.7L610.0 616.8L613.5 617.0L614.0 604.7L610.5 604.6L607.1 604.5L603.6 604.3L600.1 604.2L596.6 604.0Z" fill="#53b1de"/>
<path d="M610.0 616.8L613.5 617.0L617.0 617.2L620.4 617.3L623.9 617.5L627.4 617.7L627.9 605.3L624.4 605.2L621.0 605.0L617.5 604.9L614.0 604.7L610.5 604.6Z" fill="#52b0de"/>
<path d="M623.9 617.5L627.4 617.7L630.9 617.8L634.4 618.0L637.8 618.1L641.3 618.3L641.8 605.8L638.3 605.6L634.8 605.5L631.4 605.4L627.9 605.3L624.4 605.2Z" fill="#52b0dd"/>
<path d="M637.8 618.1L641.3 618.3L644.8 618.4L648.3 618.5L651.8 618.7L655.3 618.8L655.6 606.2L652.2 606.1L648.7 606.0L645.2 605.9L641.8 605.8L638.3 605.6Z" fill="#51afdd"/>
<path d="M651.8 618.7L655.3 618.8L658.7 618.9L662.2 619.0L665.7 619.1L669.2 619.2L669.5 606.5L666.0 606.4L662.6 606.3L659.1 606.3L655.6 606.2L652.2 606.1Z" fill="#51afdd"/>
<path d="M665.7 619.1L669.2 619.2L672.7 619.3L676.2 619.4L679.7 619.5L683.2 619.5L683.4 606.7L679.9 606.6L676.4 606.6L673.0 606.5L669.5 606.5L666.0 606.4Z" fill="#50afdc"/>
<path d="M679.7 619.5L683.2 619.5L686.7 619.6L690.2 619.7L693.7 619.7L697.2 619.7L697.3 606.8L693.8 606.8L690.3 606.7L686.9 606.7L683.4 606.7L679.9 606.6Z" fill="#50aedc"/>
<path d="M693.7 619.7L697.2 619.7L700.7 619.8L704.3 619.8L707.8 619.8L711.3 619.8L711.2 606.7L707.7 606.7L704.3 606.8L700.8 606.8L697.3 606.8L693.8 606.8Z" fill="#4faedc"/>
<path d="M707.8 619.8L711.3 619.8L714.8 619.8L718.4 619.7L721.9 619.7L725.4 619.7L725.2 606.5L721.7 606.5L718.2 606.6L714.7 606.7L711.2 606.7L707.7 606.7Z" fill="#4eaddc"/>
<path d="M721.9 619.7L725.4 619.7L729.0 619.6L732.5 619.5L736.1 619.5L739.6 619.4L739.2 606.1L735.7 606.2L732.2 606.3L728.7 606.4L725.2 606.5L721.7 606.5Z" fill="#4eaddb"/>
<path d="M736.1 619.5L739.6 619.4L743.2 619.3L746.7 619.1L750.3 619.0L749.7 605.6L746.2 605.8L742.7 605.9L739.2 606.1L735.7 606.2Z" fill="#4dacdb"/>
<path d="M749.9 619.2L753.4 619.2L757.0 619.3L760.5 619.3L764.1 619.3L767.6 619.3L767.6 605.7L764.1 605.8L760.5 605.8L757.0 605.8L753.5 605.8L749.9 605.8Z" fill="#4dacdb"/>
<path d="M764.1 619.3L767.6 619.3L771.2 619.3L774.7 619.3L778.3 619.3L781.8 619.3L781.7 605.7L778.2 605.7L774.7 605.7L771.1 605.7L767.6 605.7L764.1 605.8Z" fill="#4cabdb"/>
<path d="M778.3 619.3L781.8 619.3L785.3 619.3L788.9 619.3L792.4 619.3L795.9 619.3L795.9 605.5L792.3 605.6L788.8 605.6L785.3 605.6L781.7 605.7L778.2 605.7Z" fill="#4babda"/>
<path d="M792.4 619.3L795.9 619.3L799.5 619.3L803.0 619.3L806.5 619.3L810.0 619.3L810.0 605.4L806.4 605.4L802.9 605.5L799.4 605.5L795.9 605.5L792.3 605.6Z" fill="#4baada"/>
<path d="M806.5 619.3L810.0 619.3L813.6 619.3L817.1 619.3L820.6 619.3L824.1 619.3L824.1 605.3L820.5 605.3L817.0 605.3L813.5 605.4L810.0 605.4L806.4 605.4Z" fill="#4aaada"/>
<path d="M820.6 619.3L824.1 619.3L827.7 619.2L831.2 619.2L834.7 619.2L838.2 619.2L838.1 605.1L834.6 605.2L831.1 605.2L827.6 605.2L824.1 605.3L820.5 605.3Z" fill="#49a9da"/>
<path d="M834.7 619.2L838.2 619.2L841.8 619.2L845.3 619.2L848.8 619.2L852.3 619.2L852.2 605.0L848.7 605.0L845.2 605.1L841.7 605.1L838.1 605.1L834.6 605.2Z" fill="#49a9d9"/>
<path d="M848.8 619.2L852.3 619.2L855.8 619.2L859.3 619.2L862.8 619.2L866.4 619.2L866.3 604.9L862.8 604.9L859.3 604.9L855.7 605.0L852.2 605.0L848.7 605.0Z" fill="#48a8d9"/>
<path d="M862.8 619.2L866.4 619.2L869.9 619.2L873.4 619.2L876.9 619.2L880.4 619.2L880.3 604.8L876.8 604.8L873.3 604.8L869.8 604.8L866.3 604.9L862.8 604.9Z" fill="#47a8d9"/>
<path d="M876.9 619.2L880.4 619.2L883.9 619.2L887.4 619.2L890.9 619.2L894.4 619.2L894.4 604.7L890.9 604.7L887.4 604.7L883.9 604.7L880.3 604.8L876.8 604.8Z" fill="#47a7d9"/>
<path d="M890.9 619.2L894.4 619.2L897.9 619.2L901.4 619.2L904.9 619.2L908.4 619.2L908.4 604.6L904.9 604.6L901.4 604.6L897.9 604.7L894.4 604.7L890.9 604.7Z" fill="#46a7d8"/>
<path d="M904.9 619.2L908.4 619.2L911.9 619.2L915.4 619.3L918.9 619.3L922.4 619.3L922.5 604.6L919.0 604.6L915.5 604.6L911.9 604.6L908.4 604.6L904.9 604.6Z" fill="#45a6d8"/>
<path d="M918.9 619.3L922.4 619.3L925.9 619.3L929.4 619.4L932.9 619.4L936.4 619.4L936.5 604.6L933.0 604.6L929.5 604.6L926.0 604.6L922.5 604.6L919.0 604.6Z" fill="#44a6d8"/>
<path d="M932.9 619.4L936.4 619.4L939.9 619.5L943.4 619.5L946.9 619.5L950.4 619.6L950.5 604.6L947.0 604.6L943.5 604.6L940.0 604.6L936.5 604.6L933.0 604.6Z" fill="#44a5d8"/>
<path d="M946.9 619.5L950.4 619.6L953.9 619.6L957.4 619.7L960.9 619.7L964.4 619.8L964.6 604.7L961.1 604.7L957.6 604.7L954.1 604.6L950.5 604.6L947.0 604.6Z" fill="#43a5d7"/>
<path d="M960.9 619.7L964.4 619.8L967.9 619.9L971.4 619.9L974.9 620.0L978.4 620.1L978.6 604.9L975.1 604.8L971.6 604.8L968.1 604.8L964.6 604.7L961.1 604.7Z" fill="#42a4d7"/>
<path d="M974.9 620.0L978.4 620.1L981.8 620.1L985.3 620.2L988.8 620.3L992.3 620.4L992.7 605.1L989.1 605.0L985.6 605.0L982.1 604.9L978.6 604.9L975.1 604.8Z" fill="#42a4d7"/>
<path d="M988.8 620.3L992.3 620.4L995.8 620.5L999.3 620.6L1002.8 620.7L1006.3 620.8L1006.7 605.4L1003.2 605.3L999.7 605.2L996.2 605.2L992.7 605.1L989.1 605.0Z" fill="#41a3d7"/>
<path d="M1002.8 620.7L1006.3 620.8L1009.8 620.9L1013.3 621.0L1016.7 621.1L1020.2 621.3L1020.7 605.8L1017.2 605.7L1013.7 605.6L1010.2 605.5L1006.7 605.4L1003.2 605.3Z" fill="#40a3d6"/>
<path d="M1016.7 621.1L1020.2 621.3L1023.7 621.4L1027.2 621.5L1030.7 621.7L1034.2 621.8L1034.8 606.2L1031.3 606.1L1027.8 606.0L1024.2 605.9L1020.7 605.8L1017.2 605.7Z" fill="#40a2d6"/>
<path d="M1030.7 621.7L1034.2 621.8L1037.7 622.0L1041.2 622.1L1044.6 622.3L1048.1 622.4L1048.8 606.7L1045.3 606.6L1041.8 606.5L1038.3 606.3L1034.8 606.2L1031.3 606.1Z" fill="#3fa2d6"/>
<path d="M1044.6 622.3L1048.1 622.4L1051.6 622.6L1055.1 622.8L1058.6 623.0L1062.1 623.2L1062.9 607.4L1059.4 607.2L1055.9 607.0L1052.4 606.9L1048.8 606.7L1045.3 606.6Z" fill="#3ea1d6"/>
<path d="M1058.6 623.0L1062.1 623.2L1065.6 623.4L1069.1 623.6L1072.6 623.8L1076.0 624.0L1077.0 608.1L1073.5 607.9L1069.9 607.7L1066.4 607.5L1062.9 607.4L1059.4 607.2Z" fill="#3ea1d5"/>
<path d="M1072.6 623.8L1076.0 624.0L1079.5 624.2L1083.0 624.4L1086.5 624.7L1090.0 624.9L1091.1 608.9L1087.5 608.7L1084.0 608.5L1080.5 608.3L1077.0 608.1L1073.5 607.9Z" fill="#3da0d5"/>
<path d="M1086.5 624.7L1090.0 624.9L1093.5 625.2L1097.0 625.4L1100.5 625.7L1103.9 625.9L1105.1 609.8L1101.6 609.6L1098.1 609.4L1094.6 609.1L1091.1 608.9L1087.5 608.7Z" fill="#3ca0d5"/>
<path d="M1100.5 625.7L1103.9 625.9L1107.4 626.2L1110.9 626.5L1114.4 626.8L1117.9 627.1L1119.3 610.9L1115.7 610.6L1112.2 610.3L1108.7 610.1L1105.1 609.8L1101.6 609.6Z" fill="#3c9fd5"/>
<path d="M1114.4 626.8L1117.9 627.1L1121.4 627.4L1124.9 627.7L1128.4 628.0L1131.9 628.4L1133.4 612.1L1129.8 611.8L1126.3 611.5L1122.8 611.2L1119.3 610.9L1115.7 610.6Z" fill="#3b9fd4"/>
<path d="M1128.4 628.0L1131.9 628.4L1135.4 628.7L1138.9 629.1L1142.4 629.4L1145.8 629.8L1147.5 613.4L1144.0 613.0L1140.4 612.7L1136.9 612.4L1133.4 612.1L1129.8 611.8Z" fill="#3a9ed4"/>
<path d="M1142.4 629.4L1145.8 629.8L1149.3 630.1L1152.8 630.5L1156.3 630.9L1159.8 631.3L1161.6 614.8L1158.1 614.4L1154.6 614.1L1151.0 613.7L1147.5 613.4L1144.0 613.0Z" fill="#3a9ed4"/>
<path d="M1156.3 630.9L1159.8 631.3L1163.3 631.7L1166.8 632.1L1170.3 632.5L1173.8 633.0L1175.8 616.4L1172.3 616.0L1168.7 615.6L1165.2 615.2L1161.6 614.8L1158.1 614.4Z" fill="#399dd4"/>
<path d="M1170.3 632.5L1173.8 633.0L1177.3 633.4L1180.8 633.9L1184.3 634.3L1187.8 634.8L1190.0 618.1L1186.4 617.7L1182.9 617.2L1179.4 616.8L1175.8 616.4L1172.3 616.0Z" fill="#389dd3"/>
<path d="M1184.3 634.3L1187.8 634.8L1191.3 635.3L1194.8 635.7L1198.3 636.2L1201.8 636.8L1204.2 620.0L1200.7 619.5L1197.1 619.0L1193.5 618.6L1190.0 618.1L1186.4 617.7Z" fill="#389cd3"/>
<path d="M1198.3 636.2L1201.8 636.8L1205.3 637.3L1208.7 637.8L1212.2 638.4L1215.7 639.0L1218.4 622.2L1214.9 621.6L1211.3 621.1L1207.8 620.5L1204.2 620.0L1200.7 619.5Z" fill="#379cd3"/>
<path d="M1212.2 638.4L1215.7 639.0L1219.1 639.6L1222.6 640.2L1226.0 640.8L1229.4 641.5L1232.6 624.6L1229.1 624.0L1225.5 623.3L1222.0 622.7L1218.4 622.2L1214.9 621.6Z" fill="#369bd3"/>
<path d="M1226.0 640.8L1229.4 641.5L1232.8 642.1L1236.2 642.8L1239.6 643.6L1243.0 644.3L1246.7 627.5L1243.2 626.7L1239.7 626.0L1236.2 625.3L1232.6 624.6L1229.1 624.0Z" fill="#359bd2"/>
<path d="M1239.6 643.6L1243.0 644.3L1246.4 645.1L1249.7 645.9L1253.1 646.7L1256.4 647.6L1260.7 630.8L1257.3 629.9L1253.8 629.1L1250.3 628.2L1246.7 627.5L1243.2 626.7Z" fill="#359ad2"/>
<path d="M1253.1 646.7L1256.4 647.6L1259.7 648.5L1263.0 649.4L1266.3 650.3L1269.5 651.3L1274.6 634.6L1271.2 633.6L1267.7 632.6L1264.2 631.7L1260.7 630.8L1257.3 629.9Z" fill="#349ad2"/>
<path d="M1266.3 650.3L1269.5 651.3L1272.8 652.3L1276.0 653.4L1279.2 654.5L1282.3 655.6L1288.3 639.0L1284.9 637.9L1281.5 636.7L1278.0 635.7L1274.6 634.6L1271.2 633.6Z" fill="#3399d2"/>
<path d="M1279.2 654.5L1282.3 655.6L1285.5 656.8L1288.6 658.0L1291.8 659.2L1294.8 660.5L1301.7 644.2L1298.3 642.8L1295.0 641.5L1291.6 640.3L1288.3 639.0L1284.9 637.9Z" fill="#3399d1"/>
<path d="M1291.8 659.2L1294.8 660.5L1297.9 661.8L1301.0 663.2L1304.0 664.6L1307.0 666.0L1314.8 650.1L1311.5 648.5L1308.3 647.0L1305.0 645.6L1301.7 644.2L1298.3 642.8Z" fill="#3298d1"/>
<path d="M1304.0 664.6L1307.0 666.0L1309.9 667.5L1312.9 669.1L1315.8 670.7L1318.7 672.3L1327.6 656.8L1324.4 655.0L1321.2 653.3L1318.0 651.6L1314.8 650.1L1311.5 648.5Z" fill="#3198d1"/>
<path d="M1315.8 670.7L1318.7 672.3L1321.5 674.0L1324.2 675.7L1326.7 677.4L1329.1 679.2L1340.2 665.0L1337.1 662.7L1334.0 660.6L1330.8 658.6L1327.6 656.8L1324.4 655.0Z" fill="#3197d1"/>
<path d="M1326.7 677.4L1329.1 679.2L1331.4 681.1L1333.4 683.0L1335.3 685.1L1337.0 687.2L1351.6 676.4L1349.0 673.2L1346.2 670.2L1343.2 667.5L1340.2 665.0L1337.1 662.7Z" fill="#3097d0"/>
<path d="M1335.3 685.1L1337.0 687.2L1338.6 689.5L1339.9 691.9L1341.1 694.5L1358.0 687.8L1356.1 683.7L1354.0 679.9L1351.6 676.4L1349.0 673.2Z" fill="#2f96d0"/>
<path d="M1340.4 692.3L1340.5 695.8L1340.5 699.2L1340.3 702.5L1339.9 705.7L1339.5 708.9L1357.5 712.0L1358.1 708.0L1358.5 703.9L1358.7 699.8L1358.7 695.6L1358.6 691.3Z" fill="#2f96d0"/>
<path d="M1339.9 705.7L1339.5 708.9L1338.9 711.9L1338.1 715.0L1337.2 717.9L1336.2 720.8L1353.5 727.1L1354.7 723.4L1355.8 719.7L1356.7 715.9L1357.5 712.0L1358.1 708.0Z" fill="#2f96d0"/>
<path d="M1337.2 717.9L1336.2 720.8L1335.1 723.6L1333.9 726.4L1332.6 729.1L1331.1 731.8L1347.1 740.9L1348.9 737.5L1350.5 734.1L1352.1 730.7L1353.5 727.1L1354.7 723.4Z" fill="#2f96d0"/>
<path d="M1332.6 729.1L1331.1 731.8L1329.5 734.4L1327.9 737.0L1326.1 739.5L1324.2 742.0L1338.8 753.3L1341.0 750.3L1343.2 747.2L1345.2 744.1L1347.1 740.9L1348.9 737.5Z" fill="#3096d0"/>
<path d="M1326.1 739.5L1324.2 742.0L1322.2 744.4L1320.2 746.8L1318.0 749.2L1315.8 751.5L1329.0 764.5L1331.6 761.8L1334.1 759.0L1336.5 756.2L1338.8 753.3L1341.0 750.3Z" fill="#3096d0"/>
<path d="M1318.0 749.2L1315.8 751.5L1313.5 753.8L1311.1 756.0L1308.7 758.2L1306.2 760.4L1318.2 774.6L1321.0 772.1L1323.7 769.7L1326.4 767.1L1329.0 764.5L1331.6 761.8Z" fill="#3097d0"/>
<path d="M1308.7 758.2L1306.2 760.4L1303.6 762.5L1300.9 764.6L1298.3 766.6L1295.5 768.7L1306.5 783.7L1309.5 781.5L1312.4 779.3L1315.3 776.9L1318.2 774.6L1321.0 772.1Z" fill="#3097d0"/>
<path d="M1298.3 766.6L1295.5 768.7L1292.8 770.6L1290.0 772.6L1287.1 774.5L1284.3 776.4L1294.5 792.0L1297.5 790.0L1300.6 788.0L1303.6 785.9L1306.5 783.7L1309.5 781.5Z" fill="#3097d0"/>
<path d="M1287.1 774.5L1284.3 776.4L1281.4 778.2L1278.5 780.0L1275.6 781.8L1272.7 783.5L1282.2 799.7L1285.3 797.8L1288.4 796.0L1291.4 794.0L1294.5 792.0L1297.5 790.0Z" fill="#3197d1"/>
<path d="M1275.6 781.8L1272.7 783.5L1269.7 785.2L1266.7 786.9L1263.8 788.5L1260.7 790.1L1269.6 806.8L1272.8 805.1L1275.9 803.3L1279.0 801.5L1282.2 799.7L1285.3 797.8Z" fill="#3197d1"/>
<path d="M1263.8 788.5L1260.7 790.1L1257.7 791.7L1254.7 793.3L1251.6 794.8L1248.5 796.3L1256.8 813.3L1260.0 811.7L1263.2 810.1L1266.4 808.5L1269.6 806.8L1272.8 805.1Z" fill="#3197d1"/>
<path d="M1251.6 794.8L1248.5 796.3L1245.5 797.8L1242.3 799.2L1239.2 800.6L1236.1 802.0L1243.8 819.4L1247.0 817.9L1250.3 816.4L1253.5 814.9L1256.8 813.3L1260.0 811.7Z" fill="#3197d1"/>
<path d="M1239.2 800.6L1236.1 802.0L1232.9 803.4L1229.8 804.7L1226.6 806.1L1223.4 807.4L1230.6 825.0L1233.9 823.6L1237.2 822.2L1240.5 820.8L1243.8 819.4L1247.0 817.9Z" fill="#3197d1"/>
<path d="M1226.6 806.1L1223.4 807.4L1220.2 808.7L1217.0 809.9L1213.8 811.2L1210.5 812.4L1217.3 830.3L1220.6 829.0L1224.0 827.7L1227.3 826.3L1230.6 825.0L1233.9 823.6Z" fill="#3198d1"/>
<path d="M1213.8 811.2L1210.5 812.4L1207.3 813.6L1204.0 814.8L1200.7 816.0L1197.4 817.2L1203.9 835.2L1207.2 834.0L1210.6 832.8L1214.0 831.5L1217.3 830.3L1220.6 829.0Z" fill="#3298d1"/>
<path d="M1200.7 816.0L1197.4 817.2L1194.2 818.4L1190.9 819.5L1187.5 820.7L1184.2 821.8L1190.4 840.0L1193.8 838.8L1197.2 837.6L1200.5 836.4L1203.9 835.2L1207.2 834.0Z" fill="#3298d1"/>
<path d="M1187.5 820.7L1184.2 821.8L1180.9 822.9L1177.6 824.0L1174.2 825.1L1170.9 826.2L1176.9 844.5L1180.3 843.4L1183.7 842.3L1187.0 841.1L1190.4 840.0L1193.8 838.8Z" fill="#3298d1"/>
<path d="M1174.2 825.1L1170.9 826.2L1167.5 827.3L1164.2 828.3L1160.8 829.4L1157.5 830.5L1163.3 848.9L1166.7 847.8L1170.1 846.7L1173.5 845.6L1176.9 844.5L1180.3 843.4Z" fill="#3298d1"/>
<path d="M1160.8 829.4L1157.5 830.5L1154.1 831.6L1150.7 832.6L1147.3 833.7L1144.0 834.7L1149.8 853.2L1153.2 852.2L1156.6 851.1L1160.0 850.0L1163.3 848.9L1166.7 847.8Z" fill="#3298d1"/>
<path d="M1147.3 833.7L1144.0 834.7L1140.6 835.8L1137.2 836.9L1133.8 837.9L1130.4 839.0L1136.3 857.5L1139.7 856.5L1143.1 855.4L1146.4 854.3L1149.8 853.2L1153.2 852.2Z" fill="#3298d1"/>
<path d="M1133.8 837.9L1130.4 839.0L1127.0 840.1L1123.7 841.2L1120.3 842.2L1116.9 843.3L1122.9 861.9L1126.3 860.8L1129.6 859.7L1133.0 858.6L1136.3 857.5L1139.7 856.5Z" fill="#3398d1"/>
<path d="M1120.3 842.2L1116.9 843.3L1113.5 844.4L1110.1 845.5L1106.7 846.6L1103.4 847.8L1109.6 866.3L1112.9 865.2L1116.2 864.1L1119.6 863.0L1122.9 861.9L1126.3 860.8Z" fill="#3398d1"/>
<path d="M1106.7 846.6L1103.4 847.8L1100.0 848.9L1096.6 850.0L1093.2 851.2L1089.9 852.4L1096.4 870.9L1099.7 869.7L1103.0 868.6L1106.3 867.4L1109.6 866.3L1112.9 865.2Z" fill="#3398d2"/>
<path d="M1093.2 851.2L1089.9 852.4L1086.5 853.6L1083.2 854.8L1079.8 856.0L1076.5 857.2L1083.4 875.7L1086.6 874.4L1089.9 873.2L1093.1 872.1L1096.4 870.9L1099.7 869.7Z" fill="#3399d2"/>
<path d="M1079.8 856.0L1076.5 857.2L1073.1 858.5L1069.8 859.7L1066.5 861.0L1063.2 862.3L1070.5 880.7L1073.7 879.4L1076.9 878.1L1080.2 876.9L1083.4 875.7L1086.6 874.4Z" fill="#3399d2"/>
<path d="M1066.5 861.0L1063.2 862.3L1059.9 863.7L1056.6 865.0L1053.3 866.4L1050.0 867.7L1057.8 886.0L1061.0 884.6L1064.2 883.3L1067.3 882.0L1070.5 880.7L1073.7 879.4Z" fill="#3499d2"/>
<path d="M1053.3 866.4L1050.0 867.7L1046.8 869.1L1043.5 870.5L1040.3 872.0L1037.1 873.4L1045.2 891.5L1048.4 890.1L1051.5 888.7L1054.7 887.3L1057.8 886.0L1061.0 884.6Z" fill="#3499d2"/>
<path d="M1040.3 872.0L1037.1 873.4L1033.8 874.8L1030.6 876.3L1027.4 877.7L1024.2 879.2L1032.6 897.3L1035.8 895.9L1038.9 894.4L1042.1 893.0L1045.2 891.5L1048.4 890.1Z" fill="#3499d2"/>
<path d="M1027.4 877.7L1024.2 879.2L1021.0 880.7L1017.8 882.2L1014.7 883.7L1011.5 885.2L1020.1 903.3L1023.2 901.8L1026.4 900.3L1029.5 898.8L1032.6 897.3L1035.8 895.9Z" fill="#3499d2"/>
<path d="M1014.7 883.7L1011.5 885.2L1008.3 886.7L1005.1 888.2L1002.0 889.7L998.8 891.2L1007.5 909.3L1010.6 907.8L1013.8 906.3L1016.9 904.8L1020.1 903.3L1023.2 901.8Z" fill="#3499d2"/>
<path d="M1002.0 889.7L998.8 891.2L995.6 892.7L992.5 894.2L989.3 895.7L986.2 897.2L994.8 915.4L998.0 913.9L1001.2 912.3L1004.3 910.8L1007.5 909.3L1010.6 907.8Z" fill="#3499d2"/>
<path d="M989.3 895.7L986.2 897.2L983.0 898.7L979.8 900.2L976.7 901.7L973.5 903.2L982.1 921.5L985.3 919.9L988.5 918.4L991.7 916.9L994.8 915.4L998.0 913.9Z" fill="#359ad2"/>
<path d="M976.7 901.7L973.5 903.2L970.3 904.7L967.1 906.2L963.9 907.7L960.7 909.2L969.4 927.5L972.6 926.0L975.7 924.5L978.9 923.0L982.1 921.5L985.3 919.9Z" fill="#359ad2"/>
<path d="M963.9 907.7L960.7 909.2L957.5 910.7L954.3 912.2L951.1 913.7L947.9 915.3L956.7 933.6L959.9 932.1L963.0 930.5L966.2 929.0L969.4 927.5L972.6 926.0Z" fill="#359ad2"/>
<path d="M951.1 913.7L947.9 915.3L944.7 916.8L941.5 918.4L938.3 920.0L935.1 921.5L944.2 939.8L947.3 938.2L950.4 936.7L953.6 935.1L956.7 933.6L959.9 932.1Z" fill="#359ad2"/>
<path d="M938.3 920.0L935.1 921.5L931.9 923.1L928.7 924.8L925.5 926.4L922.3 928.0L931.8 946.1L934.9 944.5L938.0 942.9L941.1 941.3L944.2 939.8L947.3 938.2Z" fill="#359ad2"/>
<path d="M925.5 926.4L922.3 928.0L919.1 929.7L916.0 931.4L912.8 933.1L909.7 934.9L919.7 952.8L922.7 951.1L925.8 949.4L928.8 947.8L931.8 946.1L934.9 944.5Z" fill="#359ad2"/>
<path d="M912.8 933.1L909.7 934.9L906.5 936.7L903.4 938.4L900.3 940.3L897.2 942.1L907.9 959.7L910.8 957.9L913.8 956.2L916.7 954.5L919.7 952.8L922.7 951.1Z" fill="#369ad2"/>
<path d="M900.3 940.3L897.2 942.1L894.1 944.0L891.1 945.9L888.0 947.9L885.0 949.9L896.4 967.1L899.2 965.2L902.1 963.3L905.0 961.5L907.9 959.7L910.8 957.9Z" fill="#369ad3"/>
<path d="M888.0 947.9L885.0 949.9L882.0 951.9L879.0 953.9L876.0 956.0L873.1 958.2L885.3 974.8L888.1 972.8L890.8 970.9L893.6 969.0L896.4 967.1L899.2 965.2Z" fill="#369ad3"/>
<path d="M876.0 956.0L873.1 958.2L870.1 960.3L867.2 962.5L864.4 964.8L861.5 967.1L874.7 983.1L877.3 981.0L880.0 978.9L882.6 976.9L885.3 974.8L888.1 972.8Z" fill="#369ad3"/>
<path d="M864.4 964.8L861.5 967.1L858.7 969.4L855.9 971.8L853.2 974.2L850.5 976.7L864.7 992.0L867.2 989.7L869.6 987.5L872.2 985.3L874.7 983.1L877.3 981.0Z" fill="#369bd3"/>
<path d="M853.2 974.2L850.5 976.7L847.8 979.2L845.2 981.8L842.6 984.4L840.0 987.1L855.3 1001.4L857.6 999.0L859.9 996.6L862.3 994.3L864.7 992.0L867.2 989.7Z" fill="#379bd3"/>
<path d="M842.6 984.4L840.0 987.1L837.5 989.8L835.0 992.6L832.6 995.4L830.2 998.3L846.5 1011.5L848.6 1008.9L850.8 1006.4L853.0 1003.9L855.3 1001.4L857.6 999.0Z" fill="#379bd3"/>
<path d="M832.6 995.4L830.2 998.3L827.9 1001.3L825.6 1004.3L823.3 1007.3L840.4 1019.5L842.4 1016.8L844.4 1014.1L846.5 1011.5L848.6 1008.9Z" fill="#379bd3"/>
<path d="M818.2 1012.4L818.1 1016.4L818.1 1020.5L818.2 1024.4L818.4 1028.4L818.7 1032.3L840.0 1030.7L839.7 1027.2L839.6 1023.7L839.5 1020.2L839.5 1016.6L839.5 1013.0Z" fill="#379bd3"/>
<path d="M818.4 1028.4L818.7 1032.3L819.0 1036.2L819.4 1040.1L819.9 1043.9L820.5 1047.7L841.7 1044.2L841.1 1040.9L840.7 1037.5L840.3 1034.1L840.0 1030.7L839.7 1027.2Z" fill="#369bd3"/>
<path d="M819.9 1043.9L820.5 1047.7L821.1 1051.4L821.9 1055.1L822.7 1058.8L823.5 1062.5L844.4 1057.2L843.6 1054.0L842.9 1050.8L842.2 1047.5L841.7 1044.2L841.1 1040.9Z" fill="#359ad2"/>
<path d="M822.7 1058.8L823.5 1062.5L824.5 1066.1L825.5 1069.7L826.6 1073.2L827.7 1076.7L848.2 1069.7L847.1 1066.7L846.2 1063.5L845.2 1060.4L844.4 1057.2L843.6 1054.0Z" fill="#349ad2"/>
<path d="M826.6 1073.2L827.7 1076.7L828.9 1080.2L830.2 1083.6L831.5 1087.0L832.9 1090.4L852.8 1081.8L851.6 1078.9L850.4 1075.8L849.2 1072.8L848.2 1069.7L847.1 1066.7Z" fill="#349ad2"/>
<path d="M831.5 1087.0L832.9 1090.4L834.4 1093.7L835.9 1097.0L837.5 1100.3L839.1 1103.5L858.4 1093.5L856.9 1090.6L855.5 1087.7L854.2 1084.8L852.8 1081.8L851.6 1078.9Z" fill="#3399d2"/>
<path d="M837.5 1100.3L839.1 1103.5L840.8 1106.7L842.5 1109.9L844.3 1113.0L846.2 1116.1L864.8 1104.8L863.1 1102.0L861.5 1099.2L859.9 1096.4L858.4 1093.5L856.9 1090.6Z" fill="#3299d2"/>
<path d="M844.3 1113.0L846.2 1116.1L848.1 1119.2L850.0 1122.2L852.0 1125.2L854.0 1128.2L871.9 1115.6L870.1 1112.9L868.3 1110.2L866.5 1107.5L864.8 1104.8L863.1 1102.0Z" fill="#3199d1"/>
<path d="M852.0 1125.2L854.0 1128.2L856.1 1131.1L858.2 1134.0L860.3 1136.8L862.5 1139.7L879.8 1126.1L877.7 1123.5L875.8 1120.9L873.8 1118.3L871.9 1115.6L870.1 1112.9Z" fill="#3198d1"/>
<path d="M860.3 1136.8L862.5 1139.7L864.7 1142.5L867.0 1145.2L869.3 1148.0L871.6 1150.7L888.2 1136.1L886.0 1133.7L883.9 1131.2L881.8 1128.6L879.8 1126.1L877.7 1123.5Z" fill="#3098d1"/>
<path d="M869.3 1148.0L871.6 1150.7L874.0 1153.4L876.4 1156.0L878.8 1158.6L881.3 1161.2L897.2 1145.8L894.9 1143.5L892.6 1141.0L890.4 1138.6L888.2 1136.1L886.0 1133.7Z" fill="#2f98d1"/>
<path d="M878.8 1158.6L881.3 1161.2L883.8 1163.8L886.3 1166.3L888.8 1168.8L891.4 1171.3L906.6 1155.2L904.2 1152.9L901.9 1150.6L899.5 1148.2L897.2 1145.8L894.9 1143.5Z" fill="#2e97d1"/>
<path d="M888.8 1168.8L891.4 1171.3L893.9 1173.7L896.6 1176.1L899.2 1178.5L901.8 1180.8L916.5 1164.1L914.0 1161.9L911.5 1159.7L909.1 1157.4L906.6 1155.2L904.2 1152.9Z" fill="#2e97d0"/>
<path d="M899.2 1178.5L901.8 1180.8L904.5 1183.2L907.2 1185.5L909.8 1187.7L912.6 1190.0L926.7 1172.7L924.1 1170.6L921.6 1168.5L919.0 1166.3L916.5 1164.1L914.0 1161.9Z" fill="#2d97d0"/>
<path d="M909.8 1187.7L912.6 1190.0L915.3 1192.2L918.0 1194.4L920.8 1196.6L923.6 1198.8L937.2 1180.9L934.5 1178.9L931.9 1176.9L929.3 1174.8L926.7 1172.7L924.1 1170.6Z" fill="#2c96d0"/>
<path d="M920.8 1196.6L923.6 1198.8L926.4 1200.9L929.2 1203.0L932.0 1205.1L934.9 1207.1L947.9 1188.8L945.2 1186.9L942.5 1184.9L939.8 1182.9L937.2 1180.9L934.5 1178.9Z" fill="#2b96d0"/>
<path d="M932.0 1205.1L934.9 1207.1L937.8 1209.1L940.6 1211.2L943.5 1213.1L946.4 1215.1L958.9 1196.3L956.1 1194.5L953.4 1192.6L950.6 1190.7L947.9 1188.8L945.2 1186.9Z" fill="#2b96cf"/>
<path d="M943.5 1213.1L946.4 1215.1L949.4 1217.0L952.3 1219.0L955.3 1220.8L958.2 1222.7L970.2 1203.5L967.3 1201.7L964.5 1200.0L961.7 1198.1L958.9 1196.3L956.1 1194.5Z" fill="#2a95cf"/>
<path d="M955.3 1220.8L958.2 1222.7L961.2 1224.6L964.2 1226.4L967.2 1228.2L970.3 1230.0L981.7 1210.4L978.8 1208.7L975.9 1207.0L973.0 1205.3L970.2 1203.5L967.3 1201.7Z" fill="#2995cf"/>
<path d="M967.2 1228.2L970.3 1230.0L973.3 1231.8L976.3 1233.5L979.4 1235.2L982.5 1236.9L993.4 1216.9L990.4 1215.3L987.5 1213.7L984.6 1212.0L981.7 1210.4L978.8 1208.7Z" fill="#2895cf"/>
<path d="M979.4 1235.2L982.5 1236.9L985.6 1238.6L988.7 1240.3L991.8 1241.9L994.9 1243.5L1005.3 1223.2L1002.3 1221.7L999.3 1220.1L996.4 1218.5L993.4 1216.9L990.4 1215.3Z" fill="#2894cf"/>
<path d="M991.8 1241.9L994.9 1243.5L998.1 1245.1L1001.2 1246.7L1004.4 1248.3L1007.5 1249.8L1017.5 1229.2L1014.4 1227.7L1011.4 1226.2L1008.3 1224.7L1005.3 1223.2L1002.3 1221.7Z" fill="#2794ce"/>
<path d="M1004.4 1248.3L1007.5 1249.8L1010.7 1251.4L1013.9 1252.9L1017.1 1254.4L1020.3 1255.9L1029.8 1234.9L1026.7 1233.5L1023.6 1232.1L1020.5 1230.7L1017.5 1229.2L1014.4 1227.7Z" fill="#2694ce"/>
<path d="M1017.1 1254.4L1020.3 1255.9L1023.6 1257.3L1026.8 1258.8L1030.0 1260.2L1033.3 1261.6L1042.3 1240.4L1039.2 1239.0L1036.0 1237.7L1032.9 1236.3L1029.8 1234.9L1026.7 1233.5Z" fill="#2593ce"/>
<path d="M1030.0 1260.2L1033.3 1261.6L1036.5 1263.0L1039.8 1264.4L1043.1 1265.7L1046.4 1267.1L1055.0 1245.6L1051.8 1244.3L1048.7 1243.0L1045.5 1241.7L1042.3 1240.4L1039.2 1239.0Z" fill="#2593ce"/>
<path d="M1043.1 1265.7L1046.4 1267.1L1049.7 1268.4L1053.0 1269.7L1056.3 1271.0L1059.6 1272.3L1067.9 1250.6L1064.6 1249.4L1061.4 1248.1L1058.2 1246.9L1055.0 1245.6L1051.8 1244.3Z" fill="#2493ce"/>
<path d="M1056.3 1271.0L1059.6 1272.3L1062.9 1273.5L1066.3 1274.8L1069.6 1276.0L1073.0 1277.3L1080.9 1255.4L1077.6 1254.2L1074.3 1253.0L1071.1 1251.8L1067.9 1250.6L1064.6 1249.4Z" fill="#2392cd"/>
<path d="M1069.6 1276.0L1073.0 1277.3L1076.3 1278.5L1079.7 1279.7L1083.1 1280.8L1086.4 1282.0L1094.0 1259.9L1090.7 1258.8L1087.4 1257.7L1084.1 1256.5L1080.9 1255.4L1077.6 1254.2Z" fill="#2292cd"/>
<path d="M1083.1 1280.8L1086.4 1282.0L1089.8 1283.2L1093.2 1284.3L1096.6 1285.5L1100.0 1286.6L1107.2 1264.3L1103.9 1263.2L1100.6 1262.1L1097.3 1261.0L1094.0 1259.9L1090.7 1258.8Z" fill="#2192cd"/>
<path d="M1096.6 1285.5L1100.0 1286.6L1103.4 1287.7L1106.8 1288.8L1110.2 1289.9L1113.6 1290.9L1120.6 1268.5L1117.2 1267.5L1113.9 1266.4L1110.5 1265.4L1107.2 1264.3L1103.9 1263.2Z" fill="#2191cc"/>
<path d="M1110.2 1289.9L1113.6 1290.9L1117.1 1292.0L1120.5 1293.0L1123.9 1294.1L1127.3 1295.1L1134.0 1272.5L1130.6 1271.5L1127.3 1270.5L1123.9 1269.5L1120.6 1268.5L1117.2 1267.5Z" fill="#2090cc"/>
<path d="M1123.9 1294.1L1127.3 1295.1L1130.8 1296.1L1134.2 1297.1L1137.7 1298.1L1141.1 1299.1L1147.5 1276.4L1144.1 1275.4L1140.8 1274.5L1137.4 1273.5L1134.0 1272.5L1130.6 1271.5Z" fill="#1f90cc"/>
<path d="M1137.7 1298.1L1141.1 1299.1L1144.6 1300.1L1148.0 1301.1L1151.5 1302.0L1154.9 1303.0L1161.1 1280.1L1157.7 1279.2L1154.3 1278.3L1150.9 1277.3L1147.5 1276.4L1144.1 1275.4Z" fill="#1e8fcb"/>
<path d="M1151.5 1302.0L1154.9 1303.0L1158.4 1303.9L1161.9 1304.9L1165.3 1305.8L1168.8 1306.7L1174.8 1283.7L1171.4 1282.8L1168.0 1281.9L1164.5 1281.0L1161.1 1280.1L1157.7 1279.2Z" fill="#1d8ecb"/>
<path d="M1165.3 1305.8L1168.8 1306.7L1172.3 1307.6L1175.7 1308.5L1179.2 1309.4L1182.7 1310.3L1188.5 1287.2L1185.1 1286.3L1181.6 1285.5L1178.2 1284.6L1174.8 1283.7L1171.4 1282.8Z" fill="#1c8dcb"/>
<path d="M1179.2 1309.4L1182.7 1310.3L1186.1 1311.2L1189.6 1312.1L1193.1 1312.9L1196.5 1313.8L1202.2 1290.6L1198.8 1289.7L1195.4 1288.9L1191.9 1288.0L1188.5 1287.2L1185.1 1286.3Z" fill="#1b8dca"/>
<path d="M1193.1 1312.9L1196.5 1313.8L1200.0 1314.6L1203.5 1315.5L1206.9 1316.3L1210.4 1317.2L1216.0 1293.9L1212.5 1293.0L1209.1 1292.2L1205.7 1291.4L1202.2 1290.6L1198.8 1289.7Z" fill="#1b8cca"/>
<path d="M1206.9 1316.3L1210.4 1317.2L1213.9 1318.0L1217.3 1318.8L1220.8 1319.7L1224.3 1320.5L1229.7 1297.1L1226.3 1296.3L1222.9 1295.5L1219.4 1294.7L1216.0 1293.9L1212.5 1293.0Z" fill="#1a8bca"/>
<path d="M1220.8 1319.7L1224.3 1320.5L1227.7 1321.3L1231.2 1322.1L1234.7 1322.9L1238.1 1323.7L1243.5 1300.2L1240.0 1299.4L1236.6 1298.6L1233.2 1297.9L1229.7 1297.1L1226.3 1296.3Z" fill="#198bc9"/>
<path d="M1234.7 1322.9L1238.1 1323.7L1241.6 1324.5L1245.0 1325.3L1248.5 1326.1L1252.0 1326.9L1257.2 1303.3L1253.8 1302.5L1250.4 1301.7L1246.9 1301.0L1243.5 1300.2L1240.0 1299.4Z" fill="#188ac9"/>
<path d="M1248.5 1326.1L1252.0 1326.9L1255.4 1327.7L1258.9 1328.4L1262.3 1329.2L1265.8 1330.0L1271.0 1306.3L1267.5 1305.5L1264.1 1304.8L1260.7 1304.0L1257.2 1303.3L1253.8 1302.5Z" fill="#1789c9"/>
<path d="M1262.3 1329.2L1265.8 1330.0L1269.2 1330.7L1272.7 1331.5L1276.1 1332.2L1279.6 1333.0L1284.7 1309.2L1281.2 1308.5L1277.8 1307.7L1274.4 1307.0L1271.0 1306.3L1267.5 1305.5Z" fill="#1689c8"/>
<path d="M1276.1 1332.2L1279.6 1333.0L1283.1 1333.7L1286.5 1334.5L1290.0 1335.2L1293.4 1335.9L1298.4 1312.0L1295.0 1311.3L1291.5 1310.6L1288.1 1309.9L1284.7 1309.2L1281.2 1308.5Z" fill="#1588c8"/>
<path d="M1290.0 1335.2L1293.4 1335.9L1296.9 1336.7L1300.3 1337.4L1303.8 1338.1L1307.2 1338.8L1312.1 1314.8L1308.7 1314.1L1305.2 1313.4L1301.8 1312.7L1298.4 1312.0L1295.0 1311.3Z" fill="#1587c8"/>
<path d="M1303.8 1338.1L1307.2 1338.8L1310.7 1339.5L1314.1 1340.2L1317.6 1340.9L1321.0 1341.6L1325.8 1317.5L1322.4 1316.9L1318.9 1316.2L1315.5 1315.5L1312.1 1314.8L1308.7 1314.1Z" fill="#1487c7"/>
<path d="M1317.6 1340.9L1321.0 1341.6L1324.5 1342.3L1327.9 1343.0L1331.4 1343.7L1334.8 1344.4L1339.5 1320.2L1336.1 1319.5L1332.6 1318.9L1329.2 1318.2L1325.8 1317.5L1322.4 1316.9Z" fill="#1386c7"/>
<path d="M1331.4 1343.7L1334.8 1344.4L1338.2 1345.0L1341.7 1345.7L1345.1 1346.4L1348.6 1347.0L1353.2 1322.8L1349.7 1322.1L1346.3 1321.5L1342.9 1320.8L1339.5 1320.2L1336.1 1319.5Z" fill="#1285c7"/>
<path d="M1345.1 1346.4L1348.6 1347.0L1352.0 1347.7L1355.5 1348.3L1358.9 1349.0L1362.4 1349.6L1366.8 1325.3L1363.4 1324.6L1360.0 1324.0L1356.6 1323.4L1353.2 1322.8L1349.7 1322.1Z" fill="#1185c6"/>
<path d="M1358.9 1349.0L1362.4 1349.6L1365.8 1350.3L1369.2 1350.9L1372.7 1351.5L1376.1 1352.2L1380.5 1327.7L1377.1 1327.1L1373.7 1326.5L1370.3 1325.9L1366.8 1325.3L1363.4 1324.6Z" fill="#1084c6"/>
<path d="M1372.7 1351.5L1376.1 1352.2L1379.6 1352.8L1383.0 1353.4L1386.5 1354.0L1389.9 1354.6L1394.2 1330.1L1390.8 1329.5L1387.4 1328.9L1383.9 1328.3L1380.5 1327.7L1377.1 1327.1Z" fill="#0f83c6"/>
<path d="M1386.5 1354.0L1389.9 1354.6L1393.4 1355.3L1396.8 1355.9L1400.2 1356.5L1403.7 1357.1L1407.9 1332.4L1404.4 1331.8L1401.0 1331.3L1397.6 1330.7L1394.2 1330.1L1390.8 1329.5Z" fill="#0f82c5"/>
<path d="M1400.2 1356.5L1403.7 1357.1L1407.1 1357.6L1410.6 1358.2L1414.0 1358.8L1417.4 1359.4L1421.5 1334.7L1418.1 1334.1L1414.7 1333.6L1411.3 1333.0L1407.9 1332.4L1404.4 1331.8Z" fill="#0e82c5"/>
<path d="M1414.0 1358.8L1417.4 1359.4L1420.9 1360.0L1424.3 1360.5L1427.8 1361.1L1431.2 1361.7L1435.2 1336.9L1431.8 1336.3L1428.4 1335.8L1424.9 1335.2L1421.5 1334.7L1418.1 1334.1Z" fill="#0e81c5"/>
<path d="M1427.8 1361.1L1431.2 1361.7L1434.7 1362.2L1438.1 1362.8L1441.5 1363.3L1445.0 1363.9L1448.9 1339.0L1445.4 1338.5L1442.0 1337.9L1438.6 1337.4L1435.2 1336.9L1431.8 1336.3Z" fill="#0d81c4"/>
<path d="M1441.5 1363.3L1445.0 1363.9L1448.4 1364.4L1451.9 1365.0L1455.3 1365.5L1458.7 1366.0L1462.5 1341.1L1459.1 1340.5L1455.7 1340.0L1452.3 1339.5L1448.9 1339.0L1445.4 1338.5Z" fill="#0d81c4"/>
<path d="M1455.3 1365.5L1458.7 1366.0L1462.2 1366.6L1465.6 1367.1L1469.1 1367.6L1472.5 1368.1L1476.2 1343.1L1472.8 1342.6L1469.4 1342.1L1465.9 1341.6L1462.5 1341.1L1459.1 1340.5Z" fill="#0d80c4"/>
<path d="M1469.1 1367.6L1472.5 1368.1L1475.9 1368.7L1479.4 1369.2L1482.8 1369.7L1486.3 1370.2L1489.9 1345.0L1486.5 1344.5L1483.0 1344.0L1479.6 1343.6L1476.2 1343.1L1472.8 1342.6Z" fill="#0d80c3"/>
<path d="M1482.8 1369.7L1486.3 1370.2L1489.7 1370.7L1493.2 1371.2L1496.6 1371.7L1500.0 1372.1L1503.5 1346.9L1500.1 1346.4L1496.7 1346.0L1493.3 1345.5L1489.9 1345.0L1486.5 1344.5Z" fill="#0c7fc3"/>
<path d="M1496.6 1371.7L1500.0 1372.1L1503.5 1372.6L1506.9 1373.1L1510.4 1373.6L1513.8 1374.1L1517.2 1348.7L1513.8 1348.3L1510.4 1347.8L1507.0 1347.4L1503.5 1346.9L1500.1 1346.4Z" fill="#0c7fc3"/>
<path d="M1510.4 1373.6L1513.8 1374.1L1517.3 1374.5L1520.7 1375.0L1524.1 1375.5L1527.6 1375.9L1530.9 1350.5L1527.5 1350.1L1524.1 1349.6L1520.6 1349.2L1517.2 1348.7L1513.8 1348.3Z" fill="#0c7ec2"/>
<path d="M1524.1 1375.5L1527.6 1375.9L1531.0 1376.4L1534.5 1376.8L1537.9 1377.3L1541.4 1377.7L1544.6 1352.2L1541.2 1351.8L1537.7 1351.3L1534.3 1350.9L1530.9 1350.5L1527.5 1350.1Z" fill="#0c7ec2"/>
<path d="M1537.9 1377.3L1541.4 1377.7L1544.8 1378.1L1548.3 1378.6L1551.7 1379.0L1555.2 1379.4L1558.3 1353.9L1554.8 1353.4L1551.4 1353.0L1548.0 1352.6L1544.6 1352.2L1541.2 1351.8Z" fill="#0c7ec2"/>
<path d="M1551.7 1379.0L1555.2 1379.4L1558.6 1379.9L1562.1 1380.3L1565.5 1380.7L1568.9 1381.1L1572.0 1355.4L1568.5 1355.1L1565.1 1354.7L1561.7 1354.3L1558.3 1353.9L1554.8 1353.4Z" fill="#0b7dc1"/>
<path d="M1565.5 1380.7L1568.9 1381.1L1572.4 1381.5L1575.8 1381.9L1579.3 1382.4L1582.7 1382.8L1585.7 1357.0L1582.2 1356.6L1578.8 1356.2L1575.4 1355.8L1572.0 1355.4L1568.5 1355.1Z" fill="#0b7dc1"/>
<path d="M1579.3 1382.4L1582.7 1382.8L1586.2 1383.2L1589.6 1383.5L1593.1 1383.9L1596.5 1384.3L1599.4 1358.5L1595.9 1358.1L1592.5 1357.7L1589.1 1357.4L1585.7 1357.0L1582.2 1356.6Z" fill="#0b7cc1"/>
<path d="M1593.1 1383.9L1596.5 1384.3L1600.0 1384.7L1603.5 1385.1L1606.9 1385.5L1610.4 1385.8L1613.1 1359.9L1609.7 1359.6L1606.2 1359.2L1602.8 1358.8L1599.4 1358.5L1595.9 1358.1Z" fill="#0b7cc1"/>
<path d="M1606.9 1385.5L1610.4 1385.8L1613.8 1386.2L1617.3 1386.6L1620.7 1386.9L1624.2 1387.3L1626.8 1361.3L1623.4 1360.9L1619.9 1360.6L1616.5 1360.3L1613.1 1359.9L1609.7 1359.6Z" fill="#0a7bc0"/>
<path d="M1620.7 1386.9L1624.2 1387.3L1627.6 1387.7L1631.1 1388.0L1634.6 1388.4L1638.0 1388.7L1640.5 1362.6L1637.1 1362.3L1633.7 1362.0L1630.2 1361.6L1626.8 1361.3L1623.4 1360.9Z" fill="#0a7bc0"/>
<path d="M1634.6 1388.4L1638.0 1388.7L1641.5 1389.1L1644.9 1389.4L1648.4 1389.7L1651.8 1390.1L1654.3 1363.9L1650.9 1363.6L1647.4 1363.3L1644.0 1362.9L1640.5 1362.6L1637.1 1362.3Z" fill="#0a7bc0"/>
<path d="M1648.4 1389.7L1651.8 1390.1L1655.3 1390.4L1658.8 1390.7L1662.2 1391.0L1665.7 1391.4L1668.0 1365.1L1664.6 1364.8L1661.2 1364.5L1657.7 1364.2L1654.3 1363.9L1650.9 1363.6Z" fill="#0a7abf"/>
<path d="M1662.2 1391.0L1665.7 1391.4L1669.2 1391.7L1672.6 1392.0L1676.1 1392.3L1679.6 1392.6L1681.8 1366.3L1678.4 1366.0L1674.9 1365.7L1671.5 1365.4L1668.0 1365.1L1664.6 1364.8Z" fill="#097abf"/>
<path d="M1676.1 1392.3L1679.6 1392.6L1683.0 1392.9L1686.5 1393.2L1690.0 1393.5L1693.4 1393.8L1695.6 1367.4L1692.2 1367.1L1688.7 1366.9L1685.3 1366.6L1681.8 1366.3L1678.4 1366.0Z" fill="#0979bf"/>
<path d="M1690.0 1393.5L1693.4 1393.8L1696.9 1394.1L1700.4 1394.4L1703.8 1394.7L1707.3 1395.0L1709.4 1368.5L1705.9 1368.2L1702.5 1367.9L1699.0 1367.7L1695.6 1367.4L1692.2 1367.1Z" fill="#0979be"/>
<path d="M1703.8 1394.7L1707.3 1395.0L1710.8 1395.3L1714.3 1395.5L1717.7 1395.8L1721.2 1396.1L1723.2 1369.5L1719.7 1369.2L1716.3 1369.0L1712.8 1368.7L1709.4 1368.5L1705.9 1368.2Z" fill="#0978be"/>
<path d="M1717.7 1395.8L1721.2 1396.1L1724.7 1396.3L1728.2 1396.6L1731.6 1396.9L1735.1 1397.1L1737.0 1370.5L1733.6 1370.2L1730.1 1370.0L1726.7 1369.7L1723.2 1369.5L1719.7 1369.2Z" fill="#0878be"/>
<path d="M1731.6 1396.9L1735.1 1397.1L1738.6 1397.4L1742.1 1397.6L1745.6 1397.9L1749.0 1398.1L1750.9 1371.4L1747.4 1371.2L1743.9 1370.9L1740.5 1370.7L1737.0 1370.5L1733.6 1370.2Z" fill="#0878bd"/>
<path d="M1745.6 1397.9L1749.0 1398.1L1752.5 1398.4L1756.0 1398.6L1759.5 1398.9L1763.0 1399.1L1764.7 1372.3L1761.3 1372.1L1757.8 1371.8L1754.3 1371.6L1750.9 1371.4L1747.4 1371.2Z" fill="#0877bd"/>
<path d="M1759.5 1398.9L1763.0 1399.1L1766.5 1399.3L1770.0 1399.6L1773.5 1399.8L1776.9 1400.0L1778.6 1373.1L1775.1 1372.9L1771.6 1372.7L1768.2 1372.5L1764.7 1372.3L1761.3 1372.1Z" fill="#0877bd"/>
<path d="M1773.5 1399.8L1776.9 1400.0L1780.4 1400.2L1783.9 1400.4L1787.4 1400.7L1790.9 1400.9L1792.5 1373.9L1789.0 1373.7L1785.5 1373.5L1782.1 1373.3L1778.6 1373.1L1775.1 1372.9Z" fill="#0776bd"/>
<path d="M1787.4 1400.7L1790.9 1400.9L1794.4 1401.1L1797.9 1401.3L1801.4 1401.5L1804.9 1401.7L1806.4 1374.7L1802.9 1374.5L1799.4 1374.3L1796.0 1374.1L1792.5 1373.9L1789.0 1373.7Z" fill="#0776bc"/>
<path d="M1801.4 1401.5L1804.9 1401.7L1808.4 1401.9L1811.9 1402.1L1815.4 1402.3L1818.9 1402.5L1820.3 1375.4L1816.8 1375.2L1813.3 1375.0L1809.9 1374.8L1806.4 1374.7L1802.9 1374.5Z" fill="#0775bc"/>
<path d="M1815.4 1402.3L1818.9 1402.5L1822.4 1402.7L1825.9 1402.8L1829.4 1403.0L1832.9 1403.2L1834.3 1376.0L1830.8 1375.8L1827.3 1375.7L1823.8 1375.5L1820.3 1375.4L1816.8 1375.2Z" fill="#0775bc"/>
<path d="M1829.4 1403.0L1832.9 1403.2L1836.5 1403.4L1840.0 1403.6L1843.5 1403.7L1847.0 1403.9L1848.2 1376.6L1844.7 1376.5L1841.2 1376.3L1837.7 1376.2L1834.3 1376.0L1830.8 1375.8Z" fill="#0775bb"/>
<path d="M1843.5 1403.7L1847.0 1403.9L1850.5 1404.1L1854.0 1404.2L1857.5 1404.4L1861.1 1404.5L1862.2 1377.2L1858.7 1377.1L1855.2 1376.9L1851.7 1376.8L1848.2 1376.6L1844.7 1376.5Z" fill="#0674bb"/>
<path d="M1857.5 1404.4L1861.1 1404.5L1864.6 1404.7L1868.1 1404.8L1871.6 1405.0L1875.1 1405.1L1876.2 1377.7L1872.7 1377.6L1869.2 1377.5L1865.7 1377.3L1862.2 1377.2L1858.7 1377.1Z" fill="#0674bb"/>
<path d="M1871.6 1405.0L1875.1 1405.1L1878.7 1405.3L1882.2 1405.4L1885.7 1405.6L1889.3 1405.7L1890.3 1378.2L1886.7 1378.1L1883.2 1378.0L1879.7 1377.9L1876.2 1377.7L1872.7 1377.6Z" fill="#0673ba"/>
<path d="M1885.7 1405.6L1889.3 1405.7L1892.8 1405.8L1896.3 1406.0L1899.9 1406.1L1903.4 1406.2L1904.3 1378.7L1900.8 1378.6L1897.3 1378.4L1893.8 1378.3L1890.3 1378.2L1886.7 1378.1Z" fill="#0673ba"/>
<path d="M1899.9 1406.1L1903.4 1406.2L1906.9 1406.4L1910.5 1406.5L1914.0 1406.6L1917.5 1406.7L1918.4 1379.1L1914.9 1379.0L1911.3 1378.9L1907.8 1378.8L1904.3 1378.7L1900.8 1378.6Z" fill="#0572ba"/>
<path d="M1914.0 1406.6L1917.5 1406.7L1921.1 1406.8L1924.6 1406.9L1928.2 1407.1L1931.7 1407.2L1932.5 1379.4L1929.0 1379.4L1925.4 1379.3L1921.9 1379.2L1918.4 1379.1L1914.9 1379.0Z" fill="#0572b9"/>
<path d="M1928.2 1407.1L1931.7 1407.2L1935.3 1407.3L1938.8 1407.4L1942.4 1407.5L1945.9 1407.6L1946.6 1379.8L1943.1 1379.7L1939.6 1379.6L1936.0 1379.5L1932.5 1379.4L1929.0 1379.4Z" fill="#0572b9"/>
<path d="M1942.4 1407.5L1945.9 1407.6L1949.5 1407.7L1953.0 1407.8L1956.6 1407.9L1960.2 1407.9L1960.8 1380.1L1957.2 1380.0L1953.7 1379.9L1950.2 1379.9L1946.6 1379.8L1943.1 1379.7Z" fill="#0571b9"/>
<path d="M1956.6 1407.9L1960.2 1407.9L1963.7 1408.0L1967.3 1408.1L1970.8 1408.2L1974.4 1408.3L1975.0 1380.3L1971.4 1380.3L1967.9 1380.2L1964.3 1380.1L1960.8 1380.1L1957.2 1380.0Z" fill="#0471b8"/>
<path d="M1970.8 1408.2L1974.4 1408.3L1978.0 1408.4L1981.5 1408.4L1985.1 1408.5L1985.6 1380.5L1982.1 1380.5L1978.5 1380.4L1975.0 1380.3L1971.4 1380.3Z" fill="#0470b8"/></g>
<circle cx="184.1" cy="338.6" r="9.7" fill="url(#gball)"/>
<rect x="403.9" y="505.6" width="8.9" height="11.4" rx="4.5" fill="#5bbfe8"/>
<rect x="403.9" y="527.0" width="8.9" height="11.4" rx="4.5" fill="#3a9fd6"/>
<rect x="824.7" y="831.7" width="14.8" height="18.1" rx="7.4" fill="#72cdee"/>
<rect x="824.7" y="871.9" width="14.8" height="18.1" rx="7.4" fill="#55b0dd"/>
<rect x="824.7" y="912.1" width="14.8" height="18.1" rx="7.4" fill="#2a95d0"/>
<rect x="824.7" y="952.3" width="14.8" height="18.1" rx="7.4" fill="#0b7fc5"/>
<rect x="1342.9" y="554.0" width="12.0" height="14.5" rx="6.0" fill="#72cdee"/>
<rect x="1342.9" y="585.6" width="12.0" height="14.5" rx="6.0" fill="#4eaedc"/>
<rect x="1342.9" y="617.2" width="12.0" height="14.5" rx="6.0" fill="#2795d0"/>
<rect x="1342.9" y="648.9" width="12.0" height="14.5" rx="6.0" fill="#0b7fc5"/>
<rect x="1978.0" y="1137.1" width="18.0" height="20.4" rx="9.0" fill="#72cdee"/>
<rect x="1978.0" y="1183.6" width="18.0" height="20.4" rx="9.0" fill="#60b8e0"/>
<rect x="1978.0" y="1230.2" width="18.0" height="20.4" rx="9.0" fill="#45a5d8"/>
<rect x="1978.0" y="1276.7" width="18.0" height="20.4" rx="9.0" fill="#2494d0"/>
<rect x="1978.0" y="1323.3" width="18.0" height="20.4" rx="9.0" fill="#1085c8"/>
<circle cx="408.3" cy="560.5" r="14.4" fill="url(#gdot)"/>
<circle cx="1348.5" cy="691.9" r="20.3" fill="url(#gdot)"/>
<circle cx="832.2" cy="1013.4" r="25.8" fill="url(#gdot)"/>
<circle cx="1984.6" cy="1399.3" r="33.5" fill="url(#gdot)"/>
<circle cx="416.3" cy="396.8" r="83.4" fill="#7a8aa0" opacity="0.25" filter="url(#blurc1b)"/>
<polygon points="407.9,462 407.9,496 452,459" fill="url(#gptrc1)"/>
<circle cx="408.3" cy="386.8" r="87.4" fill="url(#gring)"/>
<g clip-path="url(#clipc1)"><g filter="url(#blurc1)"><polygon points="358.3,436.8 458.3,336.8 528.3,406.8 428.3,506.8" fill="url(#gshc1)"/></g></g>
<circle cx="408.3" cy="386.8" r="70.7" fill="url(#grim)"/>
<circle cx="408.3" cy="386.8" r="68.2" fill="url(#gdisc)"/>
<polygon points="368,353.8 382.5,344.8 407.5,359.3 393,368.3" fill="#2b2f34"/>
<polygon points="368,353.8 393,368.3 393,375.3 368,360.8" fill="#1b1e21"/>
<polygon points="393,368.3 407.5,359.3 407.5,365.7 393,375.3" fill="#101214"/>
<polygon points="373.5,354.1 382.8,348.3 401.7,359.3 392.4,365.1" fill="#8d9194"/>
<polygon points="383.2,350.9 386.9,348.7 397,354.8 393.4,357" fill="#7fc243"/>
<polygon points="369.8,357 372.4,358.5 372.4,360.5 369.8,359" fill="#8a8f93"/>
<polygon points="374.1,359.5 376.7,361.1 376.7,363 374.1,361.5" fill="#8a8f93"/>
<polygon points="378.5,362.1 381.1,363.6 381.1,365.6 378.5,364" fill="#8a8f93"/>
<polygon points="382.8,364.6 385.4,366.1 385.4,368.1 382.8,366.6" fill="#8a8f93"/>
<polygon points="387.2,367.2 389.8,368.7 389.8,370.6 387.2,369.1" fill="#8a8f93"/>
<polygon points="397,382.8 419.1,370.6 455,388.9 431.5,403.4" fill="#e9e9ea" stroke="#cfcfd2" stroke-width="0.5"/>
<polygon points="397,382.8 431.5,403.4 431.5,404.9 397,384.3" fill="#c9c9cc"/>
<polygon points="431.5,403.4 455,388.9 455,390.4 431.5,404.9" fill="#d8d8da"/>
<polygon points="404,380.2 417.6,372.4 447.8,390.1 434.4,398.2" fill="#26282b"/>
<polygon points="411.5,390.1 417.3,386.9 422,389.5 416.2,393" fill="#26282b"/>
<polyline points="407.4,378.3 437.8,396.2" fill="none" stroke="#e9e9ea" stroke-width="0.45"/>
<polyline points="410.8,376.3 441.1,394.1" fill="none" stroke="#e9e9ea" stroke-width="0.45"/>
<polyline points="414.2,374.3 444.4,392.1" fill="none" stroke="#e9e9ea" stroke-width="0.45"/>
<polyline points="407.4,382.2 421,374.3" fill="none" stroke="#e9e9ea" stroke-width="0.45"/>
<polyline points="410.7,384.2 424.3,376.3" fill="none" stroke="#e9e9ea" stroke-width="0.45"/>
<polyline points="414.1,386.2 427.7,378.3" fill="none" stroke="#e9e9ea" stroke-width="0.45"/>
<polyline points="417.5,388.2 431,380.2" fill="none" stroke="#e9e9ea" stroke-width="0.45"/>
<polyline points="420.9,390.2 434.4,382.2" fill="none" stroke="#e9e9ea" stroke-width="0.45"/>
<polyline points="424.3,392.2 437.7,384.2" fill="none" stroke="#e9e9ea" stroke-width="0.45"/>
<polyline points="427.7,394.2 441.1,386.1" fill="none" stroke="#e9e9ea" stroke-width="0.45"/>
<polyline points="431.1,396.2 444.4,388.1" fill="none" stroke="#e9e9ea" stroke-width="0.45"/>
<polygon points="419.1,343.4 453.9,361.1 455,388.9 419.9,371.2" fill="#ececee" stroke="#d2d2d6" stroke-width="0.5"/>
<polygon points="420.5,346.9 451.8,362.8 451.8,386.4 421.1,370.5" fill="#6ecbc5"/>
<polygon points="359,380.6 373.1,372.7 390.5,382.8 377,390.9" fill="#30343a"/>
<polygon points="359,380.6 377,390.9 377,432.4 359,421.3" fill="#1d2024"/>
<polygon points="377,390.9 390.5,382.8 390.5,424.9 377,432.4" fill="#24282d"/>
<polygon points="378.2,392.1 383.7,388.9 383.7,390.7 378.2,393.8" fill="#6cb33f"/>
<polygon points="378.2,396.5 383.7,393.3 383.7,395 378.2,398.2" fill="#6cb33f"/>
<polygon points="378.2,400.8 383.7,397.6 383.7,399.4 378.2,402.5" fill="#6cb33f"/>
<polygon points="378.2,405.2 383.7,402 383.7,403.7 378.2,406.9" fill="#4a6a3a"/>
<polygon points="386.1,386.4 389,384.7 389,387 386.1,388.8" fill="#3f4fa0"/>
<polygon points="386.1,391.1 389,389.3 389,391.7 386.1,393.4" fill="#3f4fa0"/>
<polygon points="386.1,395.7 389,394 389,396.3 386.1,398" fill="#3f4fa0"/>
<polygon points="377.9,410.4 382.5,407.8 382.5,413.3 377.9,415.9" fill="#dfe3ea"/>
<polygon points="378.2,420.5 389.5,414.1 389.5,415.9 378.2,422.3" fill="#3a3e44"/>
<polygon points="390.5,383.5 406,391.8 406,432.9 390.5,424.9" fill="#2a2d31"/>
<polygon points="391.7,385.7 404.9,392.8 404.9,431 391.7,423.7" fill="#d9d9db"/>
<polyline points="391.7,393.3 404.9,400.4" fill="none" stroke="#55585c" stroke-width="0.6"/>
<polyline points="391.7,400.9 404.9,408.1" fill="none" stroke="#55585c" stroke-width="0.6"/>
<polyline points="391.7,408.6 404.9,415.7" fill="none" stroke="#55585c" stroke-width="0.6"/>
<polyline points="391.7,416.2 404.9,423.3" fill="none" stroke="#55585c" stroke-width="0.6"/>
<polygon points="413.7,417.6 426.3,409.8 450,422 437.6,430.1" fill="#f7f7f7" stroke="#d8d8d8" stroke-width="0.4"/>
<polygon points="413.7,417.6 437.6,430.1 437.6,433 413.7,420.5" fill="#c4c4c6"/>
<polygon points="437.6,430.1 450,422 450,424.9 437.6,433" fill="#e2e2e4"/>
<polygon points="424.6,412.1 428.2,410.1 441.3,416.8 437.6,418.8" fill="#dfe8d0"/>
<polygon points="425.3,411.8 427.8,410.4 431.8,412.4 429.2,413.9" fill="#b5d66a"/>
<polygon points="421.7,422.7 423.4,423.6 423.4,425 421.7,424.2" fill="#3a3a3a"/>
<polygon points="424.9,424.4 426.6,425.2 426.6,426.7 424.9,425.8" fill="#3a3a3a"/>
<polygon points="428.1,426 429.8,426.9 429.8,428.4 428.1,427.5" fill="#3a3a3a"/>
<polygon points="431.2,427.7 433,428.6 433,430 431.2,429.2" fill="#3a3a3a"/>
<g>
<polygon points="830.3,772.5 878.5,772.5 830.3,812.0" fill="url(#gptr2)"/>
<rect x="669.0" y="457.0" width="317.5" height="317.5" rx="35.6" fill="url(#gbox)"/>
<clipPath id="clip2"><rect x="669.0" y="457.0" width="317.5" height="317.5" rx="35.6"/></clipPath>
<g clip-path="url(#clip2)"><g filter="url(#blur2)">
<polygon points="737.0,706.5 918.5,525.0 1162.6,769.0 981.0,950.6" fill="url(#gsh2)"/>
</g></g>
<circle cx="827.8" cy="615.8" r="128.4" fill="url(#grim)"/>
<circle cx="827.8" cy="615.8" r="124.3" fill="url(#gdisc)"/>
<line x1="829.2" y1="583" x2="735.3" y2="591.9" stroke="#232323" stroke-width="0.9" opacity="0.3"/>
<line x1="829.2" y1="583" x2="751.4" y2="634.5" stroke="#3ba3da" stroke-width="0.9" opacity="0.3"/>
<line x1="829.2" y1="583" x2="788.1" y2="671.7" stroke="#1b9f8b" stroke-width="0.9" opacity="0.3"/>
<line x1="829.2" y1="583" x2="851.2" y2="676.3" stroke="#f2c223" stroke-width="0.9" opacity="0.3"/>
<line x1="829.2" y1="583" x2="908.5" y2="637.5" stroke="#f08223" stroke-width="0.9" opacity="0.3"/>
<line x1="829.2" y1="583" x2="917.6" y2="591.2" stroke="#c9152f" stroke-width="0.9" opacity="0.3"/>
<circle cx="830" cy="584.2" r="48.6" fill="#3a3a3a" opacity="0.12"/>
<circle cx="829.2" cy="583" r="47.3" fill="#f0f0f3" stroke="#8c8c8c" stroke-width="2.2"/>
<circle cx="736.1" cy="593.1" r="14.4" fill="#999" opacity="0.25"/>
<circle cx="735.3" cy="591.9" r="12.9" fill="#fff" stroke="#232323" stroke-width="2.7"/>
<circle cx="752.2" cy="635.7" r="14.4" fill="#999" opacity="0.25"/>
<circle cx="751.4" cy="634.5" r="12.9" fill="#fff" stroke="#3ba3da" stroke-width="2.7"/>
<circle cx="788.9" cy="672.9" r="14.4" fill="#999" opacity="0.25"/>
<circle cx="788.1" cy="671.7" r="12.9" fill="#fff" stroke="#1b9f8b" stroke-width="2.7"/>
<circle cx="852" cy="677.5" r="14.4" fill="#999" opacity="0.25"/>
<circle cx="851.2" cy="676.3" r="12.9" fill="#fff" stroke="#f2c223" stroke-width="2.7"/>
<circle cx="909.3" cy="638.7" r="14.4" fill="#999" opacity="0.25"/>
<circle cx="908.5" cy="637.5" r="12.9" fill="#fff" stroke="#f08223" stroke-width="2.7"/>
<circle cx="918.4" cy="592.4" r="14.4" fill="#999" opacity="0.25"/>
<circle cx="917.6" cy="591.2" r="12.9" fill="#fff" stroke="#c9152f" stroke-width="2.7"/>
<g fill="none" stroke="#555" stroke-width="0.8"><rect x="732.3" y="584.9" width="6" height="5" rx="1"/><rect x="728.9" y="592.9" width="5.4" height="4" rx="1"/><rect x="736.3" y="592.9" width="5.4" height="4" rx="1"/><path d="M729.8 592.9 v-6 h2 M740.8 592.9 v-6 h-2"/></g>
<g fill="none" stroke="#3ba3da" stroke-width="0.8"><circle cx="753.8" cy="634" r="2.4"/><path d="M749.4 641.5 a4.4 4.4 0 0 1 8.8 0z"/><rect x="743.9" y="635" width="5" height="3.4"/><circle cx="746.4" cy="630" r="1.8"/></g>
<g fill="none" stroke="#1b9f8b" stroke-width="0.8"><circle cx="788.1" cy="671.7" r="3.6"/>
<path d="M791.7 671.7 L796.1 671.7"/>
<path d="M790.6 674.2 L793.8 677.4"/>
<path d="M788.1 675.3 L788.1 679.7"/>
<path d="M785.6 674.2 L782.4 677.4"/>
<path d="M784.5 671.7 L780.1 671.7"/>
<path d="M785.6 669.2 L782.4 666"/>
<path d="M788.1 668.1 L788.1 663.7"/>
<path d="M790.6 669.2 L793.8 666"/>
</g>
<g fill="none" stroke="#f2c223" stroke-width="0.9"><rect x="844.2" y="673.3" width="14" height="9.4" rx="1.2"/><path d="M847.2 673.3 v-3 h8 v3 M854.6 678.1 h3.4"/></g>
<g fill="none" stroke="#f08223" stroke-width="0.8"><circle cx="905" cy="632.5" r="2.2"/><circle cx="913.5" cy="636" r="2.2"/><circle cx="904" cy="642" r="2.2"/><path d="M905 634.7 L911.5 637 L905.7 640.9"/></g>
<g fill="none" stroke="#c9152f" stroke-width="0.8"><circle cx="917.6" cy="587" r="2.8"/><path d="M911.6 595.2 a6 5 0 0 1 12 0"/><rect x="913.6" y="592.7" width="8" height="5"/></g>
<ellipse cx="832.5" cy="558" rx="5.4" ry="3.4" fill="#8fcbe8"/><ellipse cx="829.2" cy="559" rx="3.2" ry="2.6" fill="#8fcbe8"/>
<path d="M843.6 563.1 q5 -7 12 -3 q-1 8 -8 9 q2 6 -1 10 q-5 -2 -4 -9z" fill="#7cb342"/>
<rect x="799.5" y="559.3" width="60.8" height="42.2" fill="#3b3b3b" rx="1.2"/>
<rect x="801.5" y="561.1" width="56.8" height="38.6" fill="#f6f6f6"/>
<rect x="791.9" y="600.3" width="76.7" height="4" fill="#2e2e2e" rx="1.5"/>
<rect x="820" y="600.9" width="19.8" height="4" fill="#b9c3c7"/>
<rect x="803.8" y="567.9" width="44.4" height="27.5" fill="#1f5fa8"/>
<rect x="805.2" y="569.3" width="41.6" height="24.8" fill="#ffffff"/>
<rect x="807.1" y="571.1" width="8.4" height="1.2" fill="#e8553a"/>
<rect x="807.1" y="573.5" width="14.4" height="0.8" fill="#7ec8e3"/>
<rect x="807.1" y="575.2" width="12.9" height="0.8" fill="#7ec8e3"/>
<rect x="807.1" y="576.9" width="9.9" height="0.8" fill="#7ec8e3"/>
<rect x="808.6" y="579.3" width="4.6" height="1.2" fill="#e8553a"/>
<rect x="817.3" y="586.6" width="2" height="6.1" fill="#f29a2e"/>
<rect x="820.7" y="583.3" width="2" height="9.4" fill="#f29a2e"/>
<rect x="824" y="584.8" width="2" height="7.9" fill="#f29a2e"/>
<rect x="827.3" y="579.8" width="2" height="12.9" fill="#f29a2e"/>
<rect x="830.7" y="582.1" width="2" height="10.6" fill="#f29a2e"/>
<rect x="834" y="574.8" width="2" height="17.9" fill="#f29a2e"/>
<rect x="837.4" y="577.5" width="2" height="15.2" fill="#f29a2e"/>
<polyline points="818.2,585.1 821.6,581.8 825.1,583.3 828.4,578.3 831.7,580.2 835.2,573.2 841.3,570.2" fill="none" stroke="#e8553a" stroke-width="0.6"/>
<line x1="849.7" y1="588.9" x2="858" y2="597.2" stroke="#e2582d" stroke-width="3" stroke-linecap="round"/>
<circle cx="843.6" cy="582.8" r="6.2" fill="#cfe6f3" fill-opacity="0.75" stroke="#17365d" stroke-width="1.8"/>
<rect x="799.5" y="588.1" width="15.7" height="20.1" fill="#1f5fa8" rx="1.2"/>
<rect x="801.2" y="590" width="12.3" height="16.1" fill="#ffffff"/>
<circle cx="807.4" cy="598" r="3.3" fill="none" stroke="#e8553a" stroke-width="2" stroke-dasharray="7 3.4 5 5.4"/>
<circle cx="807.4" cy="598" r="3.3" fill="none" stroke="#3fae6a" stroke-width="2" stroke-dasharray="0 7 3.4 10.4"/>
</g>
<g>
<polygon points="1350.9,504.8 1389.4,504.8 1350.9,536.7" fill="url(#gptr3)"/>
<rect x="1222.3" y="253.6" width="253.2" height="253.2" rx="28.4" fill="url(#gbox)"/>
<clipPath id="clip3"><rect x="1222.3" y="253.6" width="253.2" height="253.2" rx="28.4"/></clipPath>
<g clip-path="url(#clip3)"><g filter="url(#blur3)">
<polygon points="1276.5,452.6 1421.3,307.8 1615.9,502.4 1471.1,647.2" fill="url(#gsh3)"/>
</g></g>
<circle cx="1348.9" cy="380.2" r="102.4" fill="url(#grim)"/>
<circle cx="1348.9" cy="380.2" r="99.1" fill="url(#gdisc)"/>
<g fill="#fff" stroke="#fff">
<line x1="1352.9" y1="375.8" x2="1303.8" y2="326.3" stroke-width="16" stroke-linecap="round"/>
<circle cx="1303.8" cy="326.3" r="20.6" stroke="none"/>
<line x1="1352.9" y1="375.8" x2="1402" y2="326.3" stroke-width="16" stroke-linecap="round"/>
<circle cx="1402" cy="326.3" r="20.6" stroke="none"/>
<line x1="1352.9" y1="375.8" x2="1303.8" y2="424.9" stroke-width="16" stroke-linecap="round"/>
<circle cx="1303.8" cy="424.9" r="20.6" stroke="none"/>
<line x1="1352.9" y1="375.8" x2="1402" y2="424.9" stroke-width="16" stroke-linecap="round"/>
<circle cx="1402" cy="424.9" r="20.6" stroke="none"/>
<circle cx="1352.9" cy="375.8" r="40.5" stroke="none"/>
</g>
<circle cx="1352.9" cy="375.8" r="28.8" fill="none" stroke="#c5dbeb" stroke-width="6.2"/>
<circle cx="1352.9" cy="375.8" r="19.5" fill="#c5dbeb"/>
<text x="1352.9" y="386.3" font-family='"Liberation Sans", sans-serif' font-weight="bold" font-size="31" fill="#fff" text-anchor="middle">$</text>
<circle cx="1303.8" cy="326.3" r="16.3" fill="#0f4c81"/>
<circle cx="1402" cy="326.3" r="16.3" fill="#8cc63f"/>
<circle cx="1303.8" cy="424.9" r="16.3" fill="#f05a22"/>
<circle cx="1402" cy="424.9" r="16.3" fill="#f7941d"/>
<g fill="#fff"><rect x="1298.2" y="324.7" width="2.6" height="6.5"/><rect x="1302.2" y="321.7" width="2.6" height="9.5"/><rect x="1306.2" y="318.2" width="2.6" height="13"/></g>
<rect x="1396" y="320.1" width="9.6" height="11.6" rx="1" fill="#fff"/><rect x="1398.6" y="318.7" width="4.4" height="2" fill="#fff"/>
<path d="M1397.8 323.3 h5.4 M1397.8 325.7 h5.4 M1397.8 328.1 h3.4" stroke="#8cc63f" stroke-width="1" fill="none"/>
<circle cx="1405.8" cy="330.7" r="3.2" fill="#fff" stroke="#8cc63f" stroke-width="0.9"/><path d="M1404.3 330.7 l1.1 1.1 l2 -2.2" stroke="#8cc63f" stroke-width="0.9" fill="none"/>
<rect x="1297.8" y="419.3" width="12" height="8.4" fill="none" stroke="#fff" stroke-width="1.7"/><path d="M1300.1 430.7 h7.4" stroke="#fff" stroke-width="1.5"/><rect x="1302.6" y="428.3" width="2.4" height="2" fill="#fff"/>
<circle cx="1402" cy="424.9" r="8.6" fill="#fff"/><path d="M1397.8 425.1 l3 3 l5.2 -5.6" stroke="#f7941d" stroke-width="2" fill="none"/>
</g>
<g>
<polygon points="1983.1,1041.3 2060.8,1041.3 1983.1,1103.6" fill="url(#gptr4)"/>
<rect x="1723.3" y="531.9" width="511.4" height="511.4" rx="57.3" fill="url(#gbox)"/>
<clipPath id="clip4"><rect x="1723.3" y="531.9" width="511.4" height="511.4" rx="57.3"/></clipPath>
<g clip-path="url(#clip4)"><g filter="url(#blur4)">
<polygon points="1832.7,933.9 2125.3,641.3 2518.3,1034.4 2225.8,1326.9" fill="url(#gsh4)"/>
</g></g>
<circle cx="1979.0" cy="787.6" r="206.9" fill="url(#grim)"/>
<circle cx="1979.0" cy="787.6" r="200.2" fill="url(#gdisc)"/>
<circle cx="1898.3" cy="692.9" r="51" fill="#8cc63f"/>
<g fill="none" stroke="#fff" stroke-width="1.6">
<rect x="1896.5" y="674.5" width="25.8" height="54.6" rx="4"/>
</g>
<rect x="1899" y="680.5" width="20.8" height="40" fill="#fff" opacity="0.85"/>
<circle cx="1909.5" cy="688" r="4.2" fill="#8cc63f"/><circle cx="1905" cy="716" r="3.6" fill="#8cc63f"/>
<rect x="1899" y="694" width="20.8" height="9" fill="#8cc63f" opacity="0.55"/>
<circle cx="1909.4" cy="725.3" r="1.8" fill="#fff"/>
<rect x="1871.8" y="680" width="17.6" height="31" fill="#fff"/>
<rect x="1873.8" y="683" width="7" height="2" fill="#8cc63f"/>
<rect x="1877.8" y="687.6" width="8" height="2" fill="#8cc63f"/>
<rect x="1874.8" y="692.2" width="7" height="2" fill="#8cc63f"/>
<rect x="1879.8" y="696.8" width="7" height="2" fill="#8cc63f"/>
<rect x="1875.8" y="701.4" width="8" height="2" fill="#8cc63f"/>
<rect x="1878.8" y="706" width="8" height="2" fill="#8cc63f"/>
<circle cx="1882.1" cy="668" r="5" fill="none" stroke="#fff" stroke-width="1.5"/><polygon points="1880.5,665.3 1880.5,670.7 1885,668" fill="#fff"/>
<circle cx="1882.8" cy="722.5" r="5" fill="none" stroke="#fff" stroke-width="1.5"/><circle cx="1882.8" cy="722.5" r="2" fill="#fff"/>
<path d="M1901.2 667.5 l-3.6 -6 a4.2 4.2 0 1 1 7.2 0z" fill="#fff"/><circle cx="1901.2" cy="659.5" r="1.6" fill="#8cc63f"/>
<circle cx="1915" cy="662" r="3.2" fill="none" stroke="#fff" stroke-width="1.6" stroke-dasharray="1.3 1"/>
<circle cx="1921.5" cy="666" r="2.6" fill="none" stroke="#fff" stroke-width="1.6" stroke-dasharray="1.3 1"/>
<circle cx="1915.5" cy="670" r="2.4" fill="none" stroke="#fff" stroke-width="1.6" stroke-dasharray="1.3 1"/>
<path d="M1882 673 V680 M1882 711 V717.5 M1889.5 685 H1896 M1901.2 667.5 V674" stroke="#fff" stroke-width="0.7" opacity="0.8" fill="none"/>
<circle cx="2018.4" cy="716.7" r="79.2" fill="#f7941d"/>
<g fill="#fff"><ellipse cx="1989.8" cy="698.5" rx="6.1" ry="6.2"/><ellipse cx="2000.1" cy="691.3" rx="8.4" ry="8.5"/><ellipse cx="2017.2" cy="685.9" rx="10.2" ry="10.4"/><ellipse cx="2032.3" cy="689.2" rx="9.6" ry="9.8"/><ellipse cx="2045.1" cy="698.5" rx="6.5" ry="6.6"/><rect x="1989.8" y="693.2" width="55.3" height="11.8"/></g>
<g fill="none" stroke="#fff" stroke-width="1.6">
<rect x="1954.2" y="706.8" width="24.6" height="18.5"/><path d="M1954.2 727 h24.6 l2.6 8.2 h-29.8z"/>
<rect x="2013" y="726" width="10.8" height="24.2" rx="2"/>
<rect x="2060.8" y="707" width="22" height="28.4" rx="1.5"/>
</g>
<rect x="1963" y="731.5" width="6" height="2" fill="#fff"/><rect x="2015" y="729.5" width="6.8" height="15.5" fill="#fff" opacity="0.35"/><circle cx="2018.4" cy="747.6" r="1" fill="#fff"/><circle cx="2071.8" cy="733" r="1" fill="#fff"/>
<path d="M1992 692 L1964 703 M2018.4 705 V725 M2045 692 L2072 703" stroke="#fff" stroke-width="0.8" stroke-dasharray="1.6 1.6" opacity="0.8" fill="none"/>
<circle cx="1919.2" cy="823.6" r="87.3" fill="#27aae1"/>
<g fill="#fff"><ellipse cx="1857.2" cy="830.5" rx="11.3" ry="13.1"/><ellipse cx="1876.4" cy="815.4" rx="15.5" ry="17.9"/><ellipse cx="1908.2" cy="803.8" rx="18.9" ry="21.9"/><ellipse cx="1936.2" cy="810.8" rx="17.9" ry="20.7"/><ellipse cx="1960" cy="830.4" rx="12" ry="13.8"/><rect x="1857.2" y="819.3" width="102.8" height="24.9"/></g>
<g fill="none" stroke="#27aae1" stroke-width="2">
<rect x="1902.3" y="800.8" width="33.5" height="22.5"/>
</g>
<path d="M1902 825.5 h34.2 l3.8 13 h-41.8z" fill="#27aae1"/><rect x="1915.5" y="833.8" width="7" height="2.4" fill="#fff"/>
<path d="M1911 814 a3.3 3.3 0 0 1 2 -6 a4.6 4.6 0 0 1 8.6 -0.6 a3.4 3.4 0 0 1 2.4 6.6z" fill="#27aae1"/><path d="M1916.8 821 v-5.2 h-2.6 l4.6 -5 l4.6 5 h-2.6 v5.2z" fill="#27aae1" stroke="#fff" stroke-width="0.8"/>
<circle cx="2046" cy="842.2" r="92.6" fill="#662d91"/>
<g fill="#fff"><ellipse cx="1981.8" cy="848.1" rx="14.2" ry="14.2"/><ellipse cx="2005.7" cy="831.8" rx="19.4" ry="19.4"/><ellipse cx="2045.4" cy="819.3" rx="23.6" ry="23.6"/><ellipse cx="2080.3" cy="826.8" rx="22.4" ry="22.4"/><ellipse cx="2110" cy="848" rx="15" ry="15"/><rect x="1981.8" y="836" width="128.3" height="26.9"/></g>
<path d="M2013.9 854.4 C2013.9 833 2073.5 833 2073.5 854.4Z" fill="#662d91"/>
<circle cx="2045.4" cy="816.6" r="17.8" fill="#fff"/>
<circle cx="2045.4" cy="815.6" r="15.2" fill="#662d91"/>
<path d="M2062.5 810 Q2067 826 2052.5 833.5" fill="none" stroke="#662d91" stroke-width="1.4"/>
<rect x="2040.5" y="830.6" width="11" height="5" rx="2.4" fill="#662d91" stroke="#fff" stroke-width="1"/>
</g>
</svg></body></html>
